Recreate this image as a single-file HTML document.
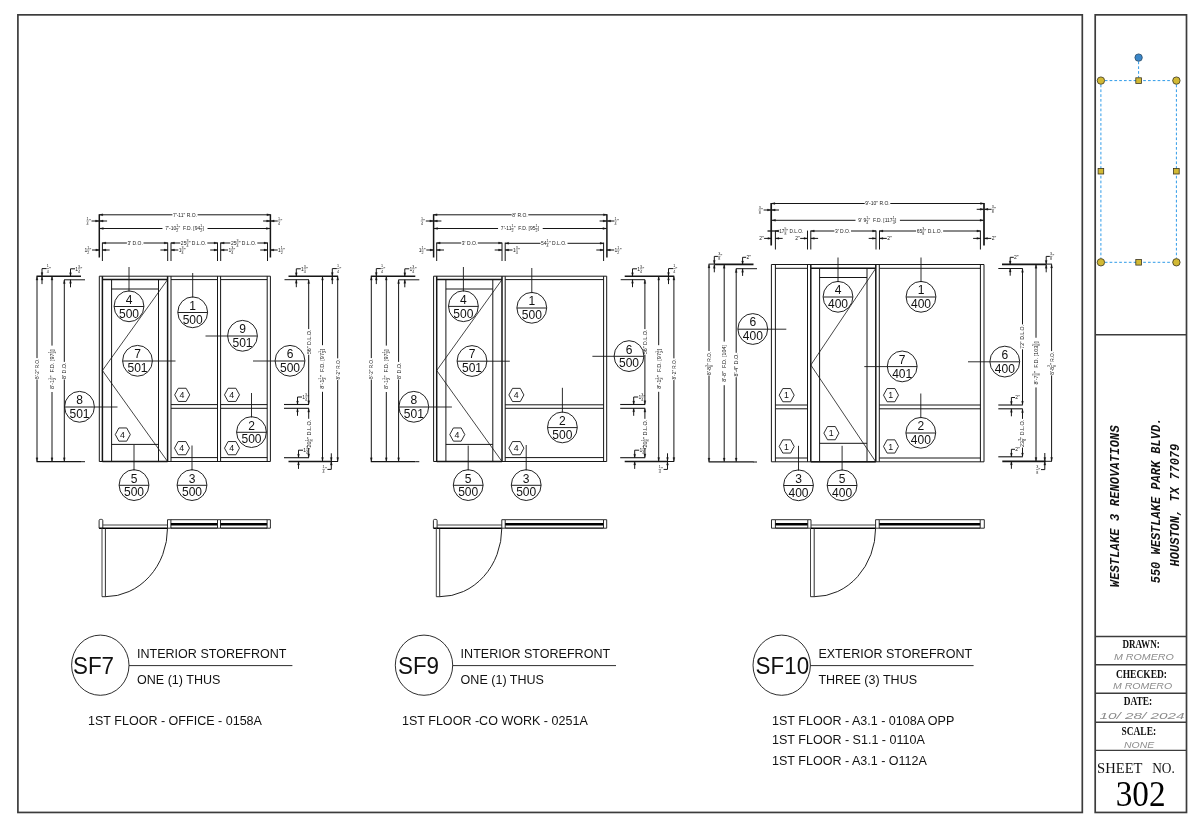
<!DOCTYPE html>
<html><head><meta charset="utf-8"><title>Shop Drawing 302</title>
<style>
html,body{margin:0;padding:0;background:#fff;}
body{width:1200px;height:822px;overflow:hidden;font-family:"Liberation Sans",sans-serif;}
svg{display:block;will-change:transform;}
svg text{font-family:"Liberation Sans",sans-serif;}
</style></head><body>
<svg width="1200" height="822" viewBox="0 0 1200 822">
<rect width="1200" height="822" fill="#fff"/>
<g fill="none">
<rect x="17.9" y="14.85" width="1064.4" height="797.6" stroke="#3c3c3c" stroke-width="1.7" fill="none"/>
<rect x="1095.2" y="14.85" width="91.3" height="797.6" stroke="#3c3c3c" stroke-width="1.7" fill="none"/>
<path d="M1095.2 334.7L1186.5 334.7" stroke="#3c3c3c" stroke-width="1.4"/>
<path d="M1095.2 636.5L1186.5 636.5" stroke="#3c3c3c" stroke-width="1.4"/>
<path d="M1095.2 664.8L1186.5 664.8" stroke="#3c3c3c" stroke-width="1.4"/>
<path d="M1095.2 693.3L1186.5 693.3" stroke="#3c3c3c" stroke-width="1.4"/>
<path d="M1095.2 722.2L1186.5 722.2" stroke="#3c3c3c" stroke-width="1.4"/>
<path d="M1095.2 750.4L1186.5 750.4" stroke="#3c3c3c" stroke-width="1.4"/>
<g stroke="#2f9be8" stroke-width="1" stroke-dasharray="2.7 2.1" fill="none">
<path d="M1138.6 61.5L1138.6 77.5"/><path d="M1104.8 80.6L1172.4 80.6"/><path d="M1104.8 262.3L1172.4 262.3"/>
<path d="M1100.9 84.6L1100.9 258.3"/><path d="M1176.4 84.6L1176.4 258.3"/></g>
<circle cx="1138.6" cy="57.6" r="3.7" fill="#3a86c8" stroke="#2a4a66" stroke-width="0.8"/>
<circle cx="1100.9" cy="80.6" r="3.7" fill="#d2b934" stroke="#3a3520" stroke-width="0.8"/>
<circle cx="1176.4" cy="80.6" r="3.7" fill="#d2b934" stroke="#3a3520" stroke-width="0.8"/>
<circle cx="1100.9" cy="262.3" r="3.7" fill="#d2b934" stroke="#3a3520" stroke-width="0.8"/>
<circle cx="1176.4" cy="262.3" r="3.7" fill="#d2b934" stroke="#3a3520" stroke-width="0.8"/>
<rect x="1135.8" y="77.8" width="5.6" height="5.6" fill="#d2b934" stroke="#3a3520" stroke-width="0.8"/>
<rect x="1098.1" y="168.4" width="5.6" height="5.6" fill="#d2b934" stroke="#3a3520" stroke-width="0.8"/>
<rect x="1173.6" y="168.4" width="5.6" height="5.6" fill="#d2b934" stroke="#3a3520" stroke-width="0.8"/>
<rect x="1135.8" y="259.5" width="5.6" height="5.6" fill="#d2b934" stroke="#3a3520" stroke-width="0.8"/>
<path d="M99.3 276.2L270.4 276.2L270.4 461.5L99.3 461.5Z" stroke="#161616" stroke-width="1"/>
<path d="M102.4 279.6L167.6 279.6" stroke="#161616" stroke-width="1.5"/>
<path d="M171 279.6L217.5 279.6" stroke="#161616" stroke-width="1"/>
<path d="M220.6 279.6L267.2 279.6" stroke="#161616" stroke-width="1"/>
<path d="M102.4 276.2L102.4 461.5" stroke="#161616" stroke-width="1.5"/>
<path d="M111.6 279.6L111.6 461.5" stroke="#161616" stroke-width="1"/>
<path d="M158.5 279.6L158.5 461.5" stroke="#161616" stroke-width="1"/>
<path d="M111.6 289L158.5 289" stroke="#161616" stroke-width="1"/>
<path d="M111.6 444.4L158.5 444.4" stroke="#161616" stroke-width="1"/>
<path d="M167.6 276.2L167.6 461.5" stroke="#161616" stroke-width="1.5"/>
<path d="M171 276.2L171 461.5" stroke="#161616" stroke-width="1"/>
<path d="M217.5 276.2L217.5 461.5" stroke="#161616" stroke-width="1"/>
<path d="M220.6 276.2L220.6 461.5" stroke="#161616" stroke-width="1"/>
<path d="M267.2 276.2L267.2 461.5" stroke="#161616" stroke-width="1"/>
<path d="M102.4 461.5L167.6 461.5" stroke="#161616" stroke-width="1.5"/>
<path d="M171 404.6L217.5 404.6" stroke="#161616" stroke-width="1"/>
<path d="M171 408.3L217.5 408.3" stroke="#161616" stroke-width="1"/>
<path d="M171 457.6L217.5 457.6" stroke="#161616" stroke-width="1"/>
<path d="M220.6 404.6L267.2 404.6" stroke="#161616" stroke-width="1"/>
<path d="M220.6 408.3L267.2 408.3" stroke="#161616" stroke-width="1"/>
<path d="M220.6 457.6L267.2 457.6" stroke="#161616" stroke-width="1"/>
<path d="M167.6 279.6L102.4 370.5L167.6 461.5" stroke="#161616" stroke-width="0.8"/>
<ellipse cx="129" cy="306.3" rx="14.9" ry="15.4" stroke="#161616" stroke-width="0.95" fill="none"/>
<path d="M114.1 306.5L143.9 306.5" stroke="#161616" stroke-width="0.95"/>
<text x="129" y="303.8" font-size="12.7" text-anchor="middle" fill="#111" transform="translate(129 303.8) scale(0.95 1) translate(-129 -303.8)">4</text>
<text x="129" y="317.7" font-size="12.7" text-anchor="middle" fill="#111" transform="translate(129 317.7) scale(0.95 1) translate(-129 -317.7)">500</text>
<path d="M129 267L129 291.7" stroke="#161616" stroke-width="0.9"/>
<ellipse cx="192.7" cy="312.3" rx="14.9" ry="15.4" stroke="#161616" stroke-width="0.95" fill="none"/>
<path d="M177.8 312.5L207.6 312.5" stroke="#161616" stroke-width="0.95"/>
<text x="192.7" y="309.8" font-size="12.7" text-anchor="middle" fill="#111" transform="translate(192.7 309.8) scale(0.95 1) translate(-192.7 -309.8)">1</text>
<text x="192.7" y="323.7" font-size="12.7" text-anchor="middle" fill="#111" transform="translate(192.7 323.7) scale(0.95 1) translate(-192.7 -323.7)">500</text>
<path d="M192.7 273L192.7 297.7" stroke="#161616" stroke-width="0.9"/>
<ellipse cx="242.5" cy="335.8" rx="14.9" ry="15.4" stroke="#161616" stroke-width="0.95" fill="none"/>
<path d="M227.6 336L257.4 336" stroke="#161616" stroke-width="0.95"/>
<text x="242.5" y="333.3" font-size="12.7" text-anchor="middle" fill="#111" transform="translate(242.5 333.3) scale(0.95 1) translate(-242.5 -333.3)">9</text>
<text x="242.5" y="347.2" font-size="12.7" text-anchor="middle" fill="#111" transform="translate(242.5 347.2) scale(0.95 1) translate(-242.5 -347.2)">501</text>
<path d="M205.5 336L227.7 336" stroke="#161616" stroke-width="0.9"/>
<ellipse cx="137.5" cy="360.8" rx="14.9" ry="15.4" stroke="#161616" stroke-width="0.95" fill="none"/>
<path d="M122.6 361L152.4 361" stroke="#161616" stroke-width="0.95"/>
<text x="137.5" y="358.3" font-size="12.7" text-anchor="middle" fill="#111" transform="translate(137.5 358.3) scale(0.95 1) translate(-137.5 -358.3)">7</text>
<text x="137.5" y="372.2" font-size="12.7" text-anchor="middle" fill="#111" transform="translate(137.5 372.2) scale(0.95 1) translate(-137.5 -372.2)">501</text>
<path d="M152.3 361L175.5 361" stroke="#161616" stroke-width="0.9"/>
<ellipse cx="290" cy="360.8" rx="14.9" ry="15.4" stroke="#161616" stroke-width="0.95" fill="none"/>
<path d="M275.1 361L304.9 361" stroke="#161616" stroke-width="0.95"/>
<text x="290" y="358.3" font-size="12.7" text-anchor="middle" fill="#111" transform="translate(290 358.3) scale(0.95 1) translate(-290 -358.3)">6</text>
<text x="290" y="372.2" font-size="12.7" text-anchor="middle" fill="#111" transform="translate(290 372.2) scale(0.95 1) translate(-290 -372.2)">500</text>
<path d="M253 361L275.2 361" stroke="#161616" stroke-width="0.9"/>
<ellipse cx="79.5" cy="406.8" rx="14.9" ry="15.4" stroke="#161616" stroke-width="0.95" fill="none"/>
<path d="M64.6 407L94.4 407" stroke="#161616" stroke-width="0.95"/>
<text x="79.5" y="404.3" font-size="12.7" text-anchor="middle" fill="#111" transform="translate(79.5 404.3) scale(0.95 1) translate(-79.5 -404.3)">8</text>
<text x="79.5" y="418.2" font-size="12.7" text-anchor="middle" fill="#111" transform="translate(79.5 418.2) scale(0.95 1) translate(-79.5 -418.2)">501</text>
<path d="M94.3 407L117.5 407" stroke="#161616" stroke-width="0.9"/>
<ellipse cx="251.5" cy="432.1" rx="14.9" ry="15.4" stroke="#161616" stroke-width="0.95" fill="none"/>
<path d="M236.6 432.3L266.4 432.3" stroke="#161616" stroke-width="0.95"/>
<text x="251.5" y="429.6" font-size="12.7" text-anchor="middle" fill="#111" transform="translate(251.5 429.6) scale(0.95 1) translate(-251.5 -429.6)">2</text>
<text x="251.5" y="443.5" font-size="12.7" text-anchor="middle" fill="#111" transform="translate(251.5 443.5) scale(0.95 1) translate(-251.5 -443.5)">500</text>
<path d="M251.5 393L251.5 417.5" stroke="#161616" stroke-width="0.9"/>
<ellipse cx="134" cy="485.1" rx="14.9" ry="15.4" stroke="#161616" stroke-width="0.95" fill="none"/>
<path d="M119.1 485.3L148.9 485.3" stroke="#161616" stroke-width="0.95"/>
<text x="134" y="482.6" font-size="12.7" text-anchor="middle" fill="#111" transform="translate(134 482.6) scale(0.95 1) translate(-134 -482.6)">5</text>
<text x="134" y="496.5" font-size="12.7" text-anchor="middle" fill="#111" transform="translate(134 496.5) scale(0.95 1) translate(-134 -496.5)">500</text>
<path d="M134 445L134 470.5" stroke="#161616" stroke-width="0.9"/>
<ellipse cx="192" cy="485.1" rx="14.9" ry="15.4" stroke="#161616" stroke-width="0.95" fill="none"/>
<path d="M177.1 485.3L206.9 485.3" stroke="#161616" stroke-width="0.95"/>
<text x="192" y="482.6" font-size="12.7" text-anchor="middle" fill="#111" transform="translate(192 482.6) scale(0.95 1) translate(-192 -482.6)">3</text>
<text x="192" y="496.5" font-size="12.7" text-anchor="middle" fill="#111" transform="translate(192 496.5) scale(0.95 1) translate(-192 -496.5)">500</text>
<path d="M192 445.5L192 470.5" stroke="#161616" stroke-width="0.9"/>
<path d="M115.3 434.55L118.9 427.95L126.7 427.95L130.3 434.55L126.7 441.15L118.9 441.15Z" stroke="#161616" stroke-width="0.9"/>
<text x="122.5" y="437.65" font-size="8.8" text-anchor="middle" fill="#111">4</text>
<path d="M174.7 394.85L178.3 388.25L186.1 388.25L189.7 394.85L186.1 401.45L178.3 401.45Z" stroke="#161616" stroke-width="0.9"/>
<text x="181.9" y="397.95" font-size="8.8" text-anchor="middle" fill="#111">4</text>
<path d="M224.5 394.85L228.1 388.25L235.9 388.25L239.5 394.85L235.9 401.45L228.1 401.45Z" stroke="#161616" stroke-width="0.9"/>
<text x="231.7" y="397.95" font-size="8.8" text-anchor="middle" fill="#111">4</text>
<path d="M174.5 448.15L178.1 441.55L185.9 441.55L189.5 448.15L185.9 454.75L178.1 454.75Z" stroke="#161616" stroke-width="0.9"/>
<text x="181.7" y="451.25" font-size="8.8" text-anchor="middle" fill="#111">4</text>
<path d="M224.5 448.15L228.1 441.55L235.9 441.55L239.5 448.15L235.9 454.75L228.1 454.75Z" stroke="#161616" stroke-width="0.9"/>
<text x="231.7" y="451.25" font-size="8.8" text-anchor="middle" fill="#111">4</text>
<path d="M99.3 214.3L99.3 257.5" stroke="#161616" stroke-width="1.5"/>
<path d="M270.4 214.3L270.4 257.5" stroke="#161616" stroke-width="1.5"/>
<path d="M99.3 214.8L172.38 214.8" stroke="#161616" stroke-width="1"/>
<path d="M197.62 214.8L270.4 214.8" stroke="#161616" stroke-width="1"/>
<path d="M99.3 214.8L102.8 213.85L102.8 215.75Z" fill="#161616" stroke="#161616" stroke-width="0.3"/>
<path d="M270.4 214.8L266.9 213.85L266.9 215.75Z" fill="#161616" stroke="#161616" stroke-width="0.3"/>
<g transform="translate(172.98 0) scale(0.91 1) translate(-172.98 0)">
<text x="172.98" y="216.78" font-size="5.5" text-anchor="start" fill="#1a1a1a">7'-11" R.O.</text>
</g>
<path d="M91.5 221L99 221" stroke="#161616" stroke-width="1"/>
<path d="M99 221L95.5 220.05L95.5 221.95Z" fill="#161616" stroke="#161616" stroke-width="0.3"/>
<path d="M99.6 221L107.1 221" stroke="#161616" stroke-width="1"/>
<path d="M99.6 221L103.1 220.05L103.1 221.95Z" fill="#161616" stroke="#161616" stroke-width="0.3"/>
<g transform="translate(86.67 0) scale(0.93 1) translate(-86.67 0)">
<text x="87.73" y="219.9" font-size="4" text-anchor="middle" fill="#1a1a1a">1</text>
<text x="87.73" y="224.96" font-size="4" text-anchor="middle" fill="#1a1a1a">4</text>
<path d="M86.42 221L89.04 221" stroke="#1a1a1a" stroke-width="0.5"/>
<text x="89.14" y="222.98" font-size="5.5" text-anchor="start" fill="#1a1a1a">"</text>
</g>
<path d="M263.1 221L270.1 221" stroke="#161616" stroke-width="1"/>
<path d="M270.1 221L266.6 220.05L266.6 221.95Z" fill="#161616" stroke="#161616" stroke-width="0.3"/>
<path d="M270.7 221L277.7 221" stroke="#161616" stroke-width="1"/>
<path d="M270.7 221L274.2 220.05L274.2 221.95Z" fill="#161616" stroke="#161616" stroke-width="0.3"/>
<g transform="translate(278.1 0) scale(0.93 1) translate(-278.1 0)">
<text x="279.16" y="219.9" font-size="4" text-anchor="middle" fill="#1a1a1a">1</text>
<text x="279.16" y="224.96" font-size="4" text-anchor="middle" fill="#1a1a1a">4</text>
<path d="M277.85 221L280.47 221" stroke="#1a1a1a" stroke-width="0.5"/>
<text x="280.57" y="222.98" font-size="5.5" text-anchor="start" fill="#1a1a1a">"</text>
</g>
<path d="M99.8 228.5L162.48 228.5" stroke="#161616" stroke-width="1"/>
<path d="M207.52 228.5L269.9 228.5" stroke="#161616" stroke-width="1"/>
<path d="M99.8 228.5L103.3 227.55L103.3 229.45Z" fill="#161616" stroke="#161616" stroke-width="0.3"/>
<path d="M269.9 228.5L266.4 227.55L266.4 229.45Z" fill="#161616" stroke="#161616" stroke-width="0.3"/>
<g transform="translate(165.28 0) scale(0.91 1) translate(-165.28 0)">
<text x="165.28" y="230.48" font-size="5.5" text-anchor="start" fill="#1a1a1a">7'-10</text>
<text x="178.4" y="227.4" font-size="4" text-anchor="middle" fill="#1a1a1a">1</text>
<text x="178.4" y="232.46" font-size="4" text-anchor="middle" fill="#1a1a1a">2</text>
<path d="M177.08 228.5L179.71 228.5" stroke="#1a1a1a" stroke-width="0.5"/>
<text x="179.81" y="230.48" font-size="5.5" text-anchor="start" fill="#1a1a1a">"&#160;&#160;F.D. [94</text>
<text x="204.83" y="227.4" font-size="4" text-anchor="middle" fill="#1a1a1a">1</text>
<text x="204.83" y="232.46" font-size="4" text-anchor="middle" fill="#1a1a1a">2</text>
<path d="M203.52 228.5L206.14 228.5" stroke="#1a1a1a" stroke-width="0.5"/>
<text x="206.24" y="230.48" font-size="5.5" text-anchor="start" fill="#1a1a1a">]</text>
</g>
<path d="M102.4 242.6L102.4 261" stroke="#161616" stroke-width="1"/>
<path d="M167.7 242.6L167.7 261" stroke="#161616" stroke-width="1"/>
<path d="M171 242.6L171 261" stroke="#161616" stroke-width="1"/>
<path d="M217.5 242.6L217.5 261" stroke="#161616" stroke-width="1"/>
<path d="M220.7 242.6L220.7 261" stroke="#161616" stroke-width="1"/>
<path d="M267.5 242.6L267.5 261" stroke="#161616" stroke-width="1"/>
<path d="M102.4 243L126.9 243" stroke="#161616" stroke-width="1"/>
<path d="M143.5 243L167.7 243" stroke="#161616" stroke-width="1"/>
<path d="M102.4 243L105.9 242.05L105.9 243.95Z" fill="#161616" stroke="#161616" stroke-width="0.3"/>
<path d="M167.7 243L164.2 242.05L164.2 243.95Z" fill="#161616" stroke="#161616" stroke-width="0.3"/>
<g transform="translate(127.5 0) scale(0.91 1) translate(-127.5 0)">
<text x="127.5" y="244.98" font-size="5.5" text-anchor="start" fill="#1a1a1a">3' D.O.</text>
</g>
<path d="M171 243L180.28 243" stroke="#161616" stroke-width="1"/>
<path d="M207.32 243L217.5 243" stroke="#161616" stroke-width="1"/>
<path d="M171 243L174.5 242.05L174.5 243.95Z" fill="#161616" stroke="#161616" stroke-width="0.3"/>
<path d="M217.5 243L214 242.05L214 243.95Z" fill="#161616" stroke="#161616" stroke-width="0.3"/>
<g transform="translate(180.88 0) scale(0.91 1) translate(-180.88 0)">
<text x="180.88" y="244.98" font-size="5.5" text-anchor="start" fill="#1a1a1a">25</text>
<text x="188.06" y="241.9" font-size="4" text-anchor="middle" fill="#1a1a1a">3</text>
<text x="188.06" y="246.96" font-size="4" text-anchor="middle" fill="#1a1a1a">4</text>
<path d="M186.75 243L189.38 243" stroke="#1a1a1a" stroke-width="0.5"/>
<text x="189.48" y="244.98" font-size="5.5" text-anchor="start" fill="#1a1a1a">" D.L.O.</text>
</g>
<path d="M220.7 243L230.28 243" stroke="#161616" stroke-width="1"/>
<path d="M257.32 243L267.5 243" stroke="#161616" stroke-width="1"/>
<path d="M220.7 243L224.2 242.05L224.2 243.95Z" fill="#161616" stroke="#161616" stroke-width="0.3"/>
<path d="M267.5 243L264 242.05L264 243.95Z" fill="#161616" stroke="#161616" stroke-width="0.3"/>
<g transform="translate(230.88 0) scale(0.91 1) translate(-230.88 0)">
<text x="230.88" y="244.98" font-size="5.5" text-anchor="start" fill="#1a1a1a">25</text>
<text x="238.06" y="241.9" font-size="4" text-anchor="middle" fill="#1a1a1a">3</text>
<text x="238.06" y="246.96" font-size="4" text-anchor="middle" fill="#1a1a1a">4</text>
<path d="M236.75 243L239.38 243" stroke="#1a1a1a" stroke-width="0.5"/>
<text x="239.48" y="244.98" font-size="5.5" text-anchor="start" fill="#1a1a1a">" D.L.O.</text>
</g>
<path d="M92 250L99.3 250" stroke="#161616" stroke-width="1"/>
<path d="M99.3 250L95.8 249.05L95.8 250.95Z" fill="#161616" stroke="#161616" stroke-width="0.3"/>
<path d="M102.4 250L109.7 250" stroke="#161616" stroke-width="1"/>
<path d="M102.4 250L105.9 249.05L105.9 250.95Z" fill="#161616" stroke="#161616" stroke-width="0.3"/>
<g transform="translate(84.39 0) scale(0.92 1) translate(-84.39 0)">
<text x="84.39" y="251.98" font-size="5.5" text-anchor="start" fill="#1a1a1a">1</text>
<text x="88.51" y="248.9" font-size="4" text-anchor="middle" fill="#1a1a1a">1</text>
<text x="88.51" y="253.96" font-size="4" text-anchor="middle" fill="#1a1a1a">2</text>
<path d="M87.2 250L89.82 250" stroke="#1a1a1a" stroke-width="0.5"/>
<text x="89.92" y="251.98" font-size="5.5" text-anchor="start" fill="#1a1a1a">"</text>
</g>
<path d="M160.4 250L167.7 250" stroke="#161616" stroke-width="1"/>
<path d="M167.7 250L164.2 249.05L164.2 250.95Z" fill="#161616" stroke="#161616" stroke-width="0.3"/>
<path d="M171 250L178.3 250" stroke="#161616" stroke-width="1"/>
<path d="M171 250L174.5 249.05L174.5 250.95Z" fill="#161616" stroke="#161616" stroke-width="0.3"/>
<g transform="translate(178.7 0) scale(0.92 1) translate(-178.7 0)">
<text x="178.7" y="251.98" font-size="5.5" text-anchor="start" fill="#1a1a1a">1</text>
<text x="182.82" y="248.9" font-size="4" text-anchor="middle" fill="#1a1a1a">3</text>
<text x="182.82" y="253.96" font-size="4" text-anchor="middle" fill="#1a1a1a">4</text>
<path d="M181.51 250L184.13 250" stroke="#1a1a1a" stroke-width="0.5"/>
<text x="184.23" y="251.98" font-size="5.5" text-anchor="start" fill="#1a1a1a">"</text>
</g>
<path d="M210.2 250L217.5 250" stroke="#161616" stroke-width="1"/>
<path d="M217.5 250L214 249.05L214 250.95Z" fill="#161616" stroke="#161616" stroke-width="0.3"/>
<path d="M220.7 250L228 250" stroke="#161616" stroke-width="1"/>
<path d="M220.7 250L224.2 249.05L224.2 250.95Z" fill="#161616" stroke="#161616" stroke-width="0.3"/>
<g transform="translate(228.4 0) scale(0.92 1) translate(-228.4 0)">
<text x="228.4" y="251.98" font-size="5.5" text-anchor="start" fill="#1a1a1a">1</text>
<text x="232.52" y="248.9" font-size="4" text-anchor="middle" fill="#1a1a1a">3</text>
<text x="232.52" y="253.96" font-size="4" text-anchor="middle" fill="#1a1a1a">4</text>
<path d="M231.21 250L233.83 250" stroke="#1a1a1a" stroke-width="0.5"/>
<text x="233.93" y="251.98" font-size="5.5" text-anchor="start" fill="#1a1a1a">"</text>
</g>
<path d="M260.2 250L267.5 250" stroke="#161616" stroke-width="1"/>
<path d="M267.5 250L264 249.05L264 250.95Z" fill="#161616" stroke="#161616" stroke-width="0.3"/>
<path d="M270.4 250L277.7 250" stroke="#161616" stroke-width="1"/>
<path d="M270.4 250L273.9 249.05L273.9 250.95Z" fill="#161616" stroke="#161616" stroke-width="0.3"/>
<g transform="translate(278.1 0) scale(0.92 1) translate(-278.1 0)">
<text x="278.1" y="251.98" font-size="5.5" text-anchor="start" fill="#1a1a1a">1</text>
<text x="282.22" y="248.9" font-size="4" text-anchor="middle" fill="#1a1a1a">1</text>
<text x="282.22" y="253.96" font-size="4" text-anchor="middle" fill="#1a1a1a">2</text>
<path d="M280.91 250L283.53 250" stroke="#1a1a1a" stroke-width="0.5"/>
<text x="283.63" y="251.98" font-size="5.5" text-anchor="start" fill="#1a1a1a">"</text>
</g>
<path d="M36.5 276.3L81 276.3" stroke="#161616" stroke-width="1.5"/>
<path d="M64 279.8L85 279.8" stroke="#161616" stroke-width="1"/>
<path d="M36.5 461.6L81 461.6" stroke="#161616" stroke-width="1.2"/>
<path d="M81 461.7L85 461.7" stroke="#161616" stroke-width="1"/>
<path d="M37 276.6L37 358.1" stroke="#161616" stroke-width="1"/>
<path d="M37 379.5L37 461.3" stroke="#161616" stroke-width="1"/>
<path d="M37 276.6L36.05 280.1L37.95 280.1Z" fill="#161616" stroke="#161616" stroke-width="0.3"/>
<path d="M37 461.3L36.05 457.8L37.95 457.8Z" fill="#161616" stroke="#161616" stroke-width="0.3"/>
<g transform="rotate(-90 37 368.8) translate(26.9 0) scale(0.85 1) translate(-26.9 0)">
<text x="26.9" y="370.78" font-size="5.5" text-anchor="start" fill="#1a1a1a">8'-2" R.O.</text>
</g>
<path d="M52 276.6L52 345.6" stroke="#161616" stroke-width="1"/>
<path d="M52 392L52 461.3" stroke="#161616" stroke-width="1"/>
<path d="M52 276.6L51.05 280.1L52.95 280.1Z" fill="#161616" stroke="#161616" stroke-width="0.3"/>
<path d="M52 461.3L51.05 457.8L52.95 457.8Z" fill="#161616" stroke="#161616" stroke-width="0.3"/>
<g transform="rotate(-90 52 368.8) translate(31.9 0) scale(1 1) translate(-31.9 0)">
<text x="31.9" y="370.78" font-size="5.5" text-anchor="start" fill="#1a1a1a">8'-1</text>
<text x="41.96" y="367.7" font-size="4" text-anchor="middle" fill="#1a1a1a">1</text>
<text x="41.96" y="372.76" font-size="4" text-anchor="middle" fill="#1a1a1a">2</text>
<path d="M40.65 368.8L43.27 368.8" stroke="#1a1a1a" stroke-width="0.5"/>
<text x="43.37" y="370.78" font-size="5.5" text-anchor="start" fill="#1a1a1a">"&#160;&#160;F.D. [97</text>
<text x="68.4" y="367.7" font-size="4" text-anchor="middle" fill="#1a1a1a">1</text>
<text x="68.4" y="372.76" font-size="4" text-anchor="middle" fill="#1a1a1a">2</text>
<path d="M67.08 368.8L69.71 368.8" stroke="#1a1a1a" stroke-width="0.5"/>
<text x="69.81" y="370.78" font-size="5.5" text-anchor="start" fill="#1a1a1a">]</text>
</g>
<path d="M64.3 280L64.3 361.9" stroke="#161616" stroke-width="1"/>
<path d="M64.3 379.5L64.3 461.3" stroke="#161616" stroke-width="1"/>
<path d="M64.3 280L63.35 283.5L65.25 283.5Z" fill="#161616" stroke="#161616" stroke-width="0.3"/>
<path d="M64.3 461.3L63.35 457.8L65.25 457.8Z" fill="#161616" stroke="#161616" stroke-width="0.3"/>
<g transform="rotate(-90 64.3 370.7) translate(56.1 0) scale(0.97 1) translate(-56.1 0)">
<text x="56.1" y="372.68" font-size="5.5" text-anchor="start" fill="#1a1a1a">8' D.O.</text>
</g>
<path d="M42 268.6L42 276.1" stroke="#161616" stroke-width="1"/>
<path d="M42 276.1L41.05 272.6L42.95 272.6Z" fill="#161616" stroke="#161616" stroke-width="0.3"/>
<path d="M42 276.6L42 284.1" stroke="#161616" stroke-width="1"/>
<path d="M42 276.6L41.05 280.1L42.95 280.1Z" fill="#161616" stroke="#161616" stroke-width="0.3"/>
<path d="M42 268.6L46.5 268.6" stroke="#161616" stroke-width="1"/>
<g transform="translate(46.8 0) scale(0.93 1) translate(-46.8 0)">
<text x="47.86" y="267.5" font-size="4" text-anchor="middle" fill="#1a1a1a">1</text>
<text x="47.86" y="272.56" font-size="4" text-anchor="middle" fill="#1a1a1a">4</text>
<path d="M46.55 268.6L49.17 268.6" stroke="#1a1a1a" stroke-width="0.5"/>
<text x="49.27" y="270.58" font-size="5.5" text-anchor="start" fill="#1a1a1a">"</text>
</g>
<path d="M70.5 268.8L70.5 276.3" stroke="#161616" stroke-width="1"/>
<path d="M70.5 276.3L69.55 272.8L71.45 272.8Z" fill="#161616" stroke="#161616" stroke-width="0.3"/>
<path d="M70.5 279.8L70.5 287.3" stroke="#161616" stroke-width="1"/>
<path d="M70.5 279.8L69.55 283.3L71.45 283.3Z" fill="#161616" stroke="#161616" stroke-width="0.3"/>
<path d="M70.5 268.8L75 268.8" stroke="#161616" stroke-width="1"/>
<g transform="translate(75.3 0) scale(0.92 1) translate(-75.3 0)">
<text x="75.3" y="270.78" font-size="5.5" text-anchor="start" fill="#1a1a1a">1</text>
<text x="79.42" y="267.7" font-size="4" text-anchor="middle" fill="#1a1a1a">3</text>
<text x="79.42" y="272.76" font-size="4" text-anchor="middle" fill="#1a1a1a">4</text>
<path d="M78.11 268.8L80.73 268.8" stroke="#1a1a1a" stroke-width="0.5"/>
<text x="80.83" y="270.78" font-size="5.5" text-anchor="start" fill="#1a1a1a">"</text>
</g>
<path d="M288.5 276.3L338.1 276.3" stroke="#161616" stroke-width="1.5"/>
<path d="M284.5 279.7L309 279.7" stroke="#161616" stroke-width="1"/>
<path d="M284 404.5L309 404.5" stroke="#161616" stroke-width="1.1"/>
<path d="M284 408.3L309 408.3" stroke="#161616" stroke-width="1.1"/>
<path d="M284 457.7L309 457.7" stroke="#161616" stroke-width="1.1"/>
<path d="M288.5 461.4L331.3 461.4" stroke="#161616" stroke-width="1.5"/>
<path d="M331 461.5L338.1 461.5" stroke="#161616" stroke-width="1"/>
<path d="M308.7 280L308.7 329.1" stroke="#161616" stroke-width="1"/>
<path d="M308.7 354.7L308.7 404.2" stroke="#161616" stroke-width="1"/>
<path d="M308.7 280L307.75 283.5L309.65 283.5Z" fill="#161616" stroke="#161616" stroke-width="0.3"/>
<path d="M308.7 404.2L307.75 400.7L309.65 400.7Z" fill="#161616" stroke="#161616" stroke-width="0.3"/>
<g transform="rotate(-90 308.7 341.9) translate(296.5 0) scale(0.96 1) translate(-296.5 0)">
<text x="296.5" y="343.88" font-size="5.5" text-anchor="start" fill="#1a1a1a">56" D.L.O.</text>
</g>
<path d="M308.7 408.6L308.7 418.8" stroke="#161616" stroke-width="1"/>
<path d="M308.7 448L308.7 457.4" stroke="#161616" stroke-width="1"/>
<path d="M308.7 408.6L307.75 412.1L309.65 412.1Z" fill="#161616" stroke="#161616" stroke-width="0.3"/>
<path d="M308.7 457.4L307.75 453.9L309.65 453.9Z" fill="#161616" stroke="#161616" stroke-width="0.3"/>
<g transform="rotate(-90 308.7 433.4) translate(294.7 0) scale(0.99 1) translate(-294.7 0)">
<text x="294.7" y="435.38" font-size="5.5" text-anchor="start" fill="#1a1a1a">20</text>
<text x="301.88" y="432.3" font-size="4" text-anchor="middle" fill="#1a1a1a">1</text>
<text x="301.88" y="437.36" font-size="4" text-anchor="middle" fill="#1a1a1a">8</text>
<path d="M300.57 433.4L303.19 433.4" stroke="#1a1a1a" stroke-width="0.5"/>
<text x="303.29" y="435.38" font-size="5.5" text-anchor="start" fill="#1a1a1a">" D.L.O.</text>
</g>
<path d="M322.5 276.6L322.5 345.2" stroke="#161616" stroke-width="1"/>
<path d="M322.5 391.8L322.5 461.1" stroke="#161616" stroke-width="1"/>
<path d="M322.5 276.6L321.55 280.1L323.45 280.1Z" fill="#161616" stroke="#161616" stroke-width="0.3"/>
<path d="M322.5 461.1L321.55 457.6L323.45 457.6Z" fill="#161616" stroke="#161616" stroke-width="0.3"/>
<g transform="rotate(-90 322.5 368.5) translate(302.3 0) scale(1.01 1) translate(-302.3 0)">
<text x="302.3" y="370.48" font-size="5.5" text-anchor="start" fill="#1a1a1a">8'-1</text>
<text x="312.36" y="367.4" font-size="4" text-anchor="middle" fill="#1a1a1a">1</text>
<text x="312.36" y="372.46" font-size="4" text-anchor="middle" fill="#1a1a1a">2</text>
<path d="M311.05 368.5L313.67 368.5" stroke="#1a1a1a" stroke-width="0.5"/>
<text x="313.77" y="370.48" font-size="5.5" text-anchor="start" fill="#1a1a1a">"&#160;&#160;F.D. [97</text>
<text x="338.8" y="367.4" font-size="4" text-anchor="middle" fill="#1a1a1a">1</text>
<text x="338.8" y="372.46" font-size="4" text-anchor="middle" fill="#1a1a1a">2</text>
<path d="M337.48 368.5L340.11 368.5" stroke="#1a1a1a" stroke-width="0.5"/>
<text x="340.21" y="370.48" font-size="5.5" text-anchor="start" fill="#1a1a1a">]</text>
</g>
<path d="M337.7 276.6L337.7 358.35" stroke="#161616" stroke-width="1"/>
<path d="M337.7 380.05L337.7 461.1" stroke="#161616" stroke-width="1"/>
<path d="M337.7 276.6L336.75 280.1L338.65 280.1Z" fill="#161616" stroke="#161616" stroke-width="0.3"/>
<path d="M337.7 461.1L336.75 457.6L338.65 457.6Z" fill="#161616" stroke="#161616" stroke-width="0.3"/>
<g transform="rotate(-90 337.7 369.2) translate(327.45 0) scale(0.86 1) translate(-327.45 0)">
<text x="327.45" y="371.18" font-size="5.5" text-anchor="start" fill="#1a1a1a">8'-2" R.O.</text>
</g>
<path d="M296.3 268.8L296.3 276.3" stroke="#161616" stroke-width="1"/>
<path d="M296.3 276.3L295.35 272.8L297.25 272.8Z" fill="#161616" stroke="#161616" stroke-width="0.3"/>
<path d="M296.3 279.7L296.3 287.2" stroke="#161616" stroke-width="1"/>
<path d="M296.3 279.7L295.35 283.2L297.25 283.2Z" fill="#161616" stroke="#161616" stroke-width="0.3"/>
<path d="M296.3 268.8L300.8 268.8" stroke="#161616" stroke-width="1"/>
<g transform="translate(301.1 0) scale(0.92 1) translate(-301.1 0)">
<text x="301.1" y="270.78" font-size="5.5" text-anchor="start" fill="#1a1a1a">1</text>
<text x="305.22" y="267.7" font-size="4" text-anchor="middle" fill="#1a1a1a">3</text>
<text x="305.22" y="272.76" font-size="4" text-anchor="middle" fill="#1a1a1a">4</text>
<path d="M303.91 268.8L306.53 268.8" stroke="#1a1a1a" stroke-width="0.5"/>
<text x="306.63" y="270.78" font-size="5.5" text-anchor="start" fill="#1a1a1a">"</text>
</g>
<path d="M332.3 268.6L332.3 276.1" stroke="#161616" stroke-width="1"/>
<path d="M332.3 276.1L331.35 272.6L333.25 272.6Z" fill="#161616" stroke="#161616" stroke-width="0.3"/>
<path d="M332.3 276.6L332.3 284.1" stroke="#161616" stroke-width="1"/>
<path d="M332.3 276.6L331.35 280.1L333.25 280.1Z" fill="#161616" stroke="#161616" stroke-width="0.3"/>
<path d="M332.3 268.6L336.8 268.6" stroke="#161616" stroke-width="1"/>
<g transform="translate(337.1 0) scale(0.93 1) translate(-337.1 0)">
<text x="338.16" y="267.5" font-size="4" text-anchor="middle" fill="#1a1a1a">1</text>
<text x="338.16" y="272.56" font-size="4" text-anchor="middle" fill="#1a1a1a">4</text>
<path d="M336.85 268.6L339.47 268.6" stroke="#1a1a1a" stroke-width="0.5"/>
<text x="339.57" y="270.58" font-size="5.5" text-anchor="start" fill="#1a1a1a">"</text>
</g>
<path d="M297.5 397L297.5 404.5" stroke="#161616" stroke-width="1"/>
<path d="M297.5 404.5L296.55 401L298.45 401Z" fill="#161616" stroke="#161616" stroke-width="0.3"/>
<path d="M297.5 408.3L297.5 415.8" stroke="#161616" stroke-width="1"/>
<path d="M297.5 408.3L296.55 411.8L298.45 411.8Z" fill="#161616" stroke="#161616" stroke-width="0.3"/>
<path d="M297.5 397L302 397" stroke="#161616" stroke-width="1"/>
<g transform="translate(302.3 0) scale(0.92 1) translate(-302.3 0)">
<text x="302.3" y="398.98" font-size="5.5" text-anchor="start" fill="#1a1a1a">1</text>
<text x="306.42" y="395.9" font-size="4" text-anchor="middle" fill="#1a1a1a">3</text>
<text x="306.42" y="400.96" font-size="4" text-anchor="middle" fill="#1a1a1a">4</text>
<path d="M305.11 397L307.73 397" stroke="#1a1a1a" stroke-width="0.5"/>
<text x="307.83" y="398.98" font-size="5.5" text-anchor="start" fill="#1a1a1a">"</text>
</g>
<path d="M298.5 450.2L298.5 457.7" stroke="#161616" stroke-width="1"/>
<path d="M298.5 457.7L297.55 454.2L299.45 454.2Z" fill="#161616" stroke="#161616" stroke-width="0.3"/>
<path d="M298.5 461.4L298.5 468.9" stroke="#161616" stroke-width="1"/>
<path d="M298.5 461.4L297.55 464.9L299.45 464.9Z" fill="#161616" stroke="#161616" stroke-width="0.3"/>
<path d="M298.5 450.2L303 450.2" stroke="#161616" stroke-width="1"/>
<g transform="translate(303.3 0) scale(0.92 1) translate(-303.3 0)">
<text x="303.3" y="452.18" font-size="5.5" text-anchor="start" fill="#1a1a1a">1</text>
<text x="307.42" y="449.1" font-size="4" text-anchor="middle" fill="#1a1a1a">3</text>
<text x="307.42" y="454.16" font-size="4" text-anchor="middle" fill="#1a1a1a">4</text>
<path d="M306.11 450.2L308.73 450.2" stroke="#1a1a1a" stroke-width="0.5"/>
<text x="308.83" y="452.18" font-size="5.5" text-anchor="start" fill="#1a1a1a">"</text>
</g>
<path d="M331.3 453.3L331.3 461.1" stroke="#161616" stroke-width="1"/>
<path d="M331.3 461.1L330.35 457.6L332.25 457.6Z" fill="#161616" stroke="#161616" stroke-width="0.3"/>
<path d="M331.3 461.6L331.3 469.4" stroke="#161616" stroke-width="1"/>
<path d="M331.3 461.6L330.35 465.1L332.25 465.1Z" fill="#161616" stroke="#161616" stroke-width="0.3"/>
<path d="M331.3 469.4L327.4 469.4" stroke="#161616" stroke-width="1"/>
<g transform="translate(322.67 0) scale(0.93 1) translate(-322.67 0)">
<text x="323.73" y="468.3" font-size="4" text-anchor="middle" fill="#1a1a1a">1</text>
<text x="323.73" y="473.36" font-size="4" text-anchor="middle" fill="#1a1a1a">4</text>
<path d="M322.42 469.4L325.04 469.4" stroke="#1a1a1a" stroke-width="0.5"/>
<text x="325.14" y="471.38" font-size="5.5" text-anchor="start" fill="#1a1a1a">"</text>
</g>
<path d="M433.6 276.2L606.7 276.2L606.7 461.5L433.6 461.5Z" stroke="#161616" stroke-width="1"/>
<path d="M436.7 279.6L502 279.6" stroke="#161616" stroke-width="1.5"/>
<path d="M505.2 279.6L603.6 279.6" stroke="#161616" stroke-width="1"/>
<path d="M436.7 276.2L436.7 461.5" stroke="#161616" stroke-width="1.5"/>
<path d="M445.9 279.6L445.9 461.5" stroke="#161616" stroke-width="1"/>
<path d="M492.8 279.6L492.8 461.5" stroke="#161616" stroke-width="1"/>
<path d="M445.9 289L492.8 289" stroke="#161616" stroke-width="1"/>
<path d="M445.9 444.4L492.8 444.4" stroke="#161616" stroke-width="1"/>
<path d="M502 276.2L502 461.5" stroke="#161616" stroke-width="1.5"/>
<path d="M505.2 276.2L505.2 461.5" stroke="#161616" stroke-width="1"/>
<path d="M603.6 276.2L603.6 461.5" stroke="#161616" stroke-width="1"/>
<path d="M436.7 461.5L502 461.5" stroke="#161616" stroke-width="1.5"/>
<path d="M505.2 404.8L603.6 404.8" stroke="#161616" stroke-width="1"/>
<path d="M505.2 408.3L603.6 408.3" stroke="#161616" stroke-width="1"/>
<path d="M505.2 457.6L603.6 457.6" stroke="#161616" stroke-width="1"/>
<path d="M502 279.6L436.7 370.5L502 461.5" stroke="#161616" stroke-width="0.8"/>
<ellipse cx="463.4" cy="306.2" rx="14.9" ry="15.4" stroke="#161616" stroke-width="0.95" fill="none"/>
<path d="M448.5 306.4L478.3 306.4" stroke="#161616" stroke-width="0.95"/>
<text x="463.4" y="303.7" font-size="12.7" text-anchor="middle" fill="#111" transform="translate(463.4 303.7) scale(0.95 1) translate(-463.4 -303.7)">4</text>
<text x="463.4" y="317.6" font-size="12.7" text-anchor="middle" fill="#111" transform="translate(463.4 317.6) scale(0.95 1) translate(-463.4 -317.6)">500</text>
<path d="M463.4 267L463.4 291.6" stroke="#161616" stroke-width="0.9"/>
<ellipse cx="531.8" cy="307.8" rx="14.9" ry="15.4" stroke="#161616" stroke-width="0.95" fill="none"/>
<path d="M516.9 308L546.7 308" stroke="#161616" stroke-width="0.95"/>
<text x="531.8" y="305.3" font-size="12.7" text-anchor="middle" fill="#111" transform="translate(531.8 305.3) scale(0.95 1) translate(-531.8 -305.3)">1</text>
<text x="531.8" y="319.2" font-size="12.7" text-anchor="middle" fill="#111" transform="translate(531.8 319.2) scale(0.95 1) translate(-531.8 -319.2)">500</text>
<path d="M531.8 268L531.8 293.2" stroke="#161616" stroke-width="0.9"/>
<ellipse cx="472" cy="361" rx="14.9" ry="15.4" stroke="#161616" stroke-width="0.95" fill="none"/>
<path d="M457.1 361.2L486.9 361.2" stroke="#161616" stroke-width="0.95"/>
<text x="472" y="358.5" font-size="12.7" text-anchor="middle" fill="#111" transform="translate(472 358.5) scale(0.95 1) translate(-472 -358.5)">7</text>
<text x="472" y="372.4" font-size="12.7" text-anchor="middle" fill="#111" transform="translate(472 372.4) scale(0.95 1) translate(-472 -372.4)">501</text>
<path d="M486.8 361.2L509.8 361.2" stroke="#161616" stroke-width="0.9"/>
<ellipse cx="629" cy="356.1" rx="14.9" ry="15.4" stroke="#161616" stroke-width="0.95" fill="none"/>
<path d="M614.1 356.3L643.9 356.3" stroke="#161616" stroke-width="0.95"/>
<text x="629" y="353.6" font-size="12.7" text-anchor="middle" fill="#111" transform="translate(629 353.6) scale(0.95 1) translate(-629 -353.6)">6</text>
<text x="629" y="367.5" font-size="12.7" text-anchor="middle" fill="#111" transform="translate(629 367.5) scale(0.95 1) translate(-629 -367.5)">500</text>
<path d="M592.4 356.3L614.2 356.3" stroke="#161616" stroke-width="0.9"/>
<ellipse cx="413.8" cy="406.8" rx="14.9" ry="15.4" stroke="#161616" stroke-width="0.95" fill="none"/>
<path d="M398.9 407L428.7 407" stroke="#161616" stroke-width="0.95"/>
<text x="413.8" y="404.3" font-size="12.7" text-anchor="middle" fill="#111" transform="translate(413.8 404.3) scale(0.95 1) translate(-413.8 -404.3)">8</text>
<text x="413.8" y="418.2" font-size="12.7" text-anchor="middle" fill="#111" transform="translate(413.8 418.2) scale(0.95 1) translate(-413.8 -418.2)">501</text>
<path d="M428.6 407L451.9 407" stroke="#161616" stroke-width="0.9"/>
<ellipse cx="562.4" cy="427.4" rx="14.9" ry="15.4" stroke="#161616" stroke-width="0.95" fill="none"/>
<path d="M547.5 427.6L577.3 427.6" stroke="#161616" stroke-width="0.95"/>
<text x="562.4" y="424.9" font-size="12.7" text-anchor="middle" fill="#111" transform="translate(562.4 424.9) scale(0.95 1) translate(-562.4 -424.9)">2</text>
<text x="562.4" y="438.8" font-size="12.7" text-anchor="middle" fill="#111" transform="translate(562.4 438.8) scale(0.95 1) translate(-562.4 -438.8)">500</text>
<path d="M562.4 387.8L562.4 412.8" stroke="#161616" stroke-width="0.9"/>
<ellipse cx="468.2" cy="485.1" rx="14.9" ry="15.4" stroke="#161616" stroke-width="0.95" fill="none"/>
<path d="M453.3 485.3L483.1 485.3" stroke="#161616" stroke-width="0.95"/>
<text x="468.2" y="482.6" font-size="12.7" text-anchor="middle" fill="#111" transform="translate(468.2 482.6) scale(0.95 1) translate(-468.2 -482.6)">5</text>
<text x="468.2" y="496.5" font-size="12.7" text-anchor="middle" fill="#111" transform="translate(468.2 496.5) scale(0.95 1) translate(-468.2 -496.5)">500</text>
<path d="M468.2 445.6L468.2 470.5" stroke="#161616" stroke-width="0.9"/>
<ellipse cx="526.2" cy="485.1" rx="14.9" ry="15.4" stroke="#161616" stroke-width="0.95" fill="none"/>
<path d="M511.3 485.3L541.1 485.3" stroke="#161616" stroke-width="0.95"/>
<text x="526.2" y="482.6" font-size="12.7" text-anchor="middle" fill="#111" transform="translate(526.2 482.6) scale(0.95 1) translate(-526.2 -482.6)">3</text>
<text x="526.2" y="496.5" font-size="12.7" text-anchor="middle" fill="#111" transform="translate(526.2 496.5) scale(0.95 1) translate(-526.2 -496.5)">500</text>
<path d="M526.2 445L526.2 470.5" stroke="#161616" stroke-width="0.9"/>
<path d="M449.8 434.55L453.4 427.95L461.2 427.95L464.8 434.55L461.2 441.15L453.4 441.15Z" stroke="#161616" stroke-width="0.9"/>
<text x="457" y="437.65" font-size="8.8" text-anchor="middle" fill="#111">4</text>
<path d="M508.9 394.95L512.5 388.35L520.3 388.35L523.9 394.95L520.3 401.55L512.5 401.55Z" stroke="#161616" stroke-width="0.9"/>
<text x="516.1" y="398.05" font-size="8.8" text-anchor="middle" fill="#111">4</text>
<path d="M508.9 448.15L512.5 441.55L520.3 441.55L523.9 448.15L520.3 454.75L512.5 454.75Z" stroke="#161616" stroke-width="0.9"/>
<text x="516.1" y="451.25" font-size="8.8" text-anchor="middle" fill="#111">4</text>
<path d="M433.6 214.3L433.6 257.5" stroke="#161616" stroke-width="1.5"/>
<path d="M606.9 214.3L606.9 257.5" stroke="#161616" stroke-width="1.5"/>
<path d="M433.6 214.8L511.7 214.8" stroke="#161616" stroke-width="1"/>
<path d="M528.3 214.8L606.9 214.8" stroke="#161616" stroke-width="1"/>
<path d="M433.6 214.8L437.1 213.85L437.1 215.75Z" fill="#161616" stroke="#161616" stroke-width="0.3"/>
<path d="M606.9 214.8L603.4 213.85L603.4 215.75Z" fill="#161616" stroke="#161616" stroke-width="0.3"/>
<g transform="translate(512.3 0) scale(0.91 1) translate(-512.3 0)">
<text x="512.3" y="216.78" font-size="5.5" text-anchor="start" fill="#1a1a1a">8' R.O.</text>
</g>
<path d="M425.8 221L433.3 221" stroke="#161616" stroke-width="1"/>
<path d="M433.3 221L429.8 220.05L429.8 221.95Z" fill="#161616" stroke="#161616" stroke-width="0.3"/>
<path d="M433.9 221L441.4 221" stroke="#161616" stroke-width="1"/>
<path d="M433.9 221L437.4 220.05L437.4 221.95Z" fill="#161616" stroke="#161616" stroke-width="0.3"/>
<g transform="translate(420.97 0) scale(0.93 1) translate(-420.97 0)">
<text x="422.03" y="219.9" font-size="4" text-anchor="middle" fill="#1a1a1a">1</text>
<text x="422.03" y="224.96" font-size="4" text-anchor="middle" fill="#1a1a1a">4</text>
<path d="M420.72 221L423.34 221" stroke="#1a1a1a" stroke-width="0.5"/>
<text x="423.44" y="222.98" font-size="5.5" text-anchor="start" fill="#1a1a1a">"</text>
</g>
<path d="M599.6 221L606.6 221" stroke="#161616" stroke-width="1"/>
<path d="M606.6 221L603.1 220.05L603.1 221.95Z" fill="#161616" stroke="#161616" stroke-width="0.3"/>
<path d="M607.2 221L614.2 221" stroke="#161616" stroke-width="1"/>
<path d="M607.2 221L610.7 220.05L610.7 221.95Z" fill="#161616" stroke="#161616" stroke-width="0.3"/>
<g transform="translate(614.6 0) scale(0.93 1) translate(-614.6 0)">
<text x="615.66" y="219.9" font-size="4" text-anchor="middle" fill="#1a1a1a">1</text>
<text x="615.66" y="224.96" font-size="4" text-anchor="middle" fill="#1a1a1a">4</text>
<path d="M614.35 221L616.97 221" stroke="#1a1a1a" stroke-width="0.5"/>
<text x="617.07" y="222.98" font-size="5.5" text-anchor="start" fill="#1a1a1a">"</text>
</g>
<path d="M434.1 228.5L498.06 228.5" stroke="#161616" stroke-width="1"/>
<path d="M542.74 228.5L606.4 228.5" stroke="#161616" stroke-width="1"/>
<path d="M434.1 228.5L437.6 227.55L437.6 229.45Z" fill="#161616" stroke="#161616" stroke-width="0.3"/>
<path d="M606.4 228.5L602.9 227.55L602.9 229.45Z" fill="#161616" stroke="#161616" stroke-width="0.3"/>
<g transform="translate(500.86 0) scale(0.91 1) translate(-500.86 0)">
<text x="500.86" y="230.48" font-size="5.5" text-anchor="start" fill="#1a1a1a">7'-11</text>
<text x="513.57" y="227.4" font-size="4" text-anchor="middle" fill="#1a1a1a">1</text>
<text x="513.57" y="232.46" font-size="4" text-anchor="middle" fill="#1a1a1a">2</text>
<path d="M512.26 228.5L514.89 228.5" stroke="#1a1a1a" stroke-width="0.5"/>
<text x="514.99" y="230.48" font-size="5.5" text-anchor="start" fill="#1a1a1a">"&#160;&#160;F.D. [95</text>
<text x="540.01" y="227.4" font-size="4" text-anchor="middle" fill="#1a1a1a">1</text>
<text x="540.01" y="232.46" font-size="4" text-anchor="middle" fill="#1a1a1a">2</text>
<path d="M538.7 228.5L541.32 228.5" stroke="#1a1a1a" stroke-width="0.5"/>
<text x="541.42" y="230.48" font-size="5.5" text-anchor="start" fill="#1a1a1a">]</text>
</g>
<path d="M436.7 242.6L436.7 261" stroke="#161616" stroke-width="1"/>
<path d="M502 242.6L502 261" stroke="#161616" stroke-width="1"/>
<path d="M505.2 242.6L505.2 261" stroke="#161616" stroke-width="1"/>
<path d="M603.6 242.6L603.6 261" stroke="#161616" stroke-width="1"/>
<path d="M436.7 243L461.2 243" stroke="#161616" stroke-width="1"/>
<path d="M477.8 243L502 243" stroke="#161616" stroke-width="1"/>
<path d="M436.7 243L440.2 242.05L440.2 243.95Z" fill="#161616" stroke="#161616" stroke-width="0.3"/>
<path d="M502 243L498.5 242.05L498.5 243.95Z" fill="#161616" stroke="#161616" stroke-width="0.3"/>
<g transform="translate(461.8 0) scale(0.91 1) translate(-461.8 0)">
<text x="461.8" y="244.98" font-size="5.5" text-anchor="start" fill="#1a1a1a">3' D.O.</text>
</g>
<path d="M505.2 243.3L540.48 243.3" stroke="#161616" stroke-width="1"/>
<path d="M567.52 243.3L603.6 243.3" stroke="#161616" stroke-width="1"/>
<path d="M505.2 243.3L508.7 242.35L508.7 244.25Z" fill="#161616" stroke="#161616" stroke-width="0.3"/>
<path d="M603.6 243.3L600.1 242.35L600.1 244.25Z" fill="#161616" stroke="#161616" stroke-width="0.3"/>
<g transform="translate(541.08 0) scale(0.91 1) translate(-541.08 0)">
<text x="541.08" y="245.28" font-size="5.5" text-anchor="start" fill="#1a1a1a">54</text>
<text x="548.26" y="242.2" font-size="4" text-anchor="middle" fill="#1a1a1a">1</text>
<text x="548.26" y="247.26" font-size="4" text-anchor="middle" fill="#1a1a1a">4</text>
<path d="M546.95 243.3L549.58 243.3" stroke="#1a1a1a" stroke-width="0.5"/>
<text x="549.68" y="245.28" font-size="5.5" text-anchor="start" fill="#1a1a1a">" D.L.O.</text>
</g>
<path d="M426.3 250L433.6 250" stroke="#161616" stroke-width="1"/>
<path d="M433.6 250L430.1 249.05L430.1 250.95Z" fill="#161616" stroke="#161616" stroke-width="0.3"/>
<path d="M436.7 250L444 250" stroke="#161616" stroke-width="1"/>
<path d="M436.7 250L440.2 249.05L440.2 250.95Z" fill="#161616" stroke="#161616" stroke-width="0.3"/>
<g transform="translate(418.69 0) scale(0.92 1) translate(-418.69 0)">
<text x="418.69" y="251.98" font-size="5.5" text-anchor="start" fill="#1a1a1a">1</text>
<text x="422.81" y="248.9" font-size="4" text-anchor="middle" fill="#1a1a1a">1</text>
<text x="422.81" y="253.96" font-size="4" text-anchor="middle" fill="#1a1a1a">2</text>
<path d="M421.5 250L424.12 250" stroke="#1a1a1a" stroke-width="0.5"/>
<text x="424.22" y="251.98" font-size="5.5" text-anchor="start" fill="#1a1a1a">"</text>
</g>
<path d="M494.7 250L502 250" stroke="#161616" stroke-width="1"/>
<path d="M502 250L498.5 249.05L498.5 250.95Z" fill="#161616" stroke="#161616" stroke-width="0.3"/>
<path d="M505.2 250L512.5 250" stroke="#161616" stroke-width="1"/>
<path d="M505.2 250L508.7 249.05L508.7 250.95Z" fill="#161616" stroke="#161616" stroke-width="0.3"/>
<g transform="translate(512.9 0) scale(0.92 1) translate(-512.9 0)">
<text x="512.9" y="251.98" font-size="5.5" text-anchor="start" fill="#1a1a1a">1</text>
<text x="517.02" y="248.9" font-size="4" text-anchor="middle" fill="#1a1a1a">3</text>
<text x="517.02" y="253.96" font-size="4" text-anchor="middle" fill="#1a1a1a">4</text>
<path d="M515.71 250L518.33 250" stroke="#1a1a1a" stroke-width="0.5"/>
<text x="518.43" y="251.98" font-size="5.5" text-anchor="start" fill="#1a1a1a">"</text>
</g>
<path d="M596.3 250L603.6 250" stroke="#161616" stroke-width="1"/>
<path d="M603.6 250L600.1 249.05L600.1 250.95Z" fill="#161616" stroke="#161616" stroke-width="0.3"/>
<path d="M606.9 250L614.2 250" stroke="#161616" stroke-width="1"/>
<path d="M606.9 250L610.4 249.05L610.4 250.95Z" fill="#161616" stroke="#161616" stroke-width="0.3"/>
<g transform="translate(614.6 0) scale(0.92 1) translate(-614.6 0)">
<text x="614.6" y="251.98" font-size="5.5" text-anchor="start" fill="#1a1a1a">1</text>
<text x="618.72" y="248.9" font-size="4" text-anchor="middle" fill="#1a1a1a">1</text>
<text x="618.72" y="253.96" font-size="4" text-anchor="middle" fill="#1a1a1a">2</text>
<path d="M617.41 250L620.03 250" stroke="#1a1a1a" stroke-width="0.5"/>
<text x="620.13" y="251.98" font-size="5.5" text-anchor="start" fill="#1a1a1a">"</text>
</g>
<path d="M370.8 276.3L415.3 276.3" stroke="#161616" stroke-width="1.5"/>
<path d="M398.3 279.8L419.3 279.8" stroke="#161616" stroke-width="1"/>
<path d="M370.8 461.6L415.3 461.6" stroke="#161616" stroke-width="1.2"/>
<path d="M415.3 461.7L419.3 461.7" stroke="#161616" stroke-width="1"/>
<path d="M371.3 276.6L371.3 358.1" stroke="#161616" stroke-width="1"/>
<path d="M371.3 379.5L371.3 461.3" stroke="#161616" stroke-width="1"/>
<path d="M371.3 276.6L370.35 280.1L372.25 280.1Z" fill="#161616" stroke="#161616" stroke-width="0.3"/>
<path d="M371.3 461.3L370.35 457.8L372.25 457.8Z" fill="#161616" stroke="#161616" stroke-width="0.3"/>
<g transform="rotate(-90 371.3 368.8) translate(361.2 0) scale(0.85 1) translate(-361.2 0)">
<text x="361.2" y="370.78" font-size="5.5" text-anchor="start" fill="#1a1a1a">8'-2" R.O.</text>
</g>
<path d="M386.3 276.6L386.3 345.6" stroke="#161616" stroke-width="1"/>
<path d="M386.3 392L386.3 461.3" stroke="#161616" stroke-width="1"/>
<path d="M386.3 276.6L385.35 280.1L387.25 280.1Z" fill="#161616" stroke="#161616" stroke-width="0.3"/>
<path d="M386.3 461.3L385.35 457.8L387.25 457.8Z" fill="#161616" stroke="#161616" stroke-width="0.3"/>
<g transform="rotate(-90 386.3 368.8) translate(366.2 0) scale(1 1) translate(-366.2 0)">
<text x="366.2" y="370.78" font-size="5.5" text-anchor="start" fill="#1a1a1a">8'-1</text>
<text x="376.26" y="367.7" font-size="4" text-anchor="middle" fill="#1a1a1a">1</text>
<text x="376.26" y="372.76" font-size="4" text-anchor="middle" fill="#1a1a1a">2</text>
<path d="M374.95 368.8L377.57 368.8" stroke="#1a1a1a" stroke-width="0.5"/>
<text x="377.67" y="370.78" font-size="5.5" text-anchor="start" fill="#1a1a1a">"&#160;&#160;F.D. [97</text>
<text x="402.7" y="367.7" font-size="4" text-anchor="middle" fill="#1a1a1a">1</text>
<text x="402.7" y="372.76" font-size="4" text-anchor="middle" fill="#1a1a1a">2</text>
<path d="M401.38 368.8L404.01 368.8" stroke="#1a1a1a" stroke-width="0.5"/>
<text x="404.11" y="370.78" font-size="5.5" text-anchor="start" fill="#1a1a1a">]</text>
</g>
<path d="M398.6 280L398.6 361.9" stroke="#161616" stroke-width="1"/>
<path d="M398.6 379.5L398.6 461.3" stroke="#161616" stroke-width="1"/>
<path d="M398.6 280L397.65 283.5L399.55 283.5Z" fill="#161616" stroke="#161616" stroke-width="0.3"/>
<path d="M398.6 461.3L397.65 457.8L399.55 457.8Z" fill="#161616" stroke="#161616" stroke-width="0.3"/>
<g transform="rotate(-90 398.6 370.7) translate(390.4 0) scale(0.97 1) translate(-390.4 0)">
<text x="390.4" y="372.68" font-size="5.5" text-anchor="start" fill="#1a1a1a">8' D.O.</text>
</g>
<path d="M376.3 268.6L376.3 276.1" stroke="#161616" stroke-width="1"/>
<path d="M376.3 276.1L375.35 272.6L377.25 272.6Z" fill="#161616" stroke="#161616" stroke-width="0.3"/>
<path d="M376.3 276.6L376.3 284.1" stroke="#161616" stroke-width="1"/>
<path d="M376.3 276.6L375.35 280.1L377.25 280.1Z" fill="#161616" stroke="#161616" stroke-width="0.3"/>
<path d="M376.3 268.6L380.8 268.6" stroke="#161616" stroke-width="1"/>
<g transform="translate(381.1 0) scale(0.93 1) translate(-381.1 0)">
<text x="382.16" y="267.5" font-size="4" text-anchor="middle" fill="#1a1a1a">1</text>
<text x="382.16" y="272.56" font-size="4" text-anchor="middle" fill="#1a1a1a">4</text>
<path d="M380.85 268.6L383.47 268.6" stroke="#1a1a1a" stroke-width="0.5"/>
<text x="383.57" y="270.58" font-size="5.5" text-anchor="start" fill="#1a1a1a">"</text>
</g>
<path d="M404.8 268.8L404.8 276.3" stroke="#161616" stroke-width="1"/>
<path d="M404.8 276.3L403.85 272.8L405.75 272.8Z" fill="#161616" stroke="#161616" stroke-width="0.3"/>
<path d="M404.8 279.8L404.8 287.3" stroke="#161616" stroke-width="1"/>
<path d="M404.8 279.8L403.85 283.3L405.75 283.3Z" fill="#161616" stroke="#161616" stroke-width="0.3"/>
<path d="M404.8 268.8L409.3 268.8" stroke="#161616" stroke-width="1"/>
<g transform="translate(409.6 0) scale(0.92 1) translate(-409.6 0)">
<text x="409.6" y="270.78" font-size="5.5" text-anchor="start" fill="#1a1a1a">1</text>
<text x="413.72" y="267.7" font-size="4" text-anchor="middle" fill="#1a1a1a">3</text>
<text x="413.72" y="272.76" font-size="4" text-anchor="middle" fill="#1a1a1a">4</text>
<path d="M412.41 268.8L415.03 268.8" stroke="#1a1a1a" stroke-width="0.5"/>
<text x="415.13" y="270.78" font-size="5.5" text-anchor="start" fill="#1a1a1a">"</text>
</g>
<path d="M624.7 276.3L674.3 276.3" stroke="#161616" stroke-width="1.5"/>
<path d="M620.7 279.7L645.2 279.7" stroke="#161616" stroke-width="1"/>
<path d="M620.2 404.5L645.2 404.5" stroke="#161616" stroke-width="1.1"/>
<path d="M620.2 408.3L645.2 408.3" stroke="#161616" stroke-width="1.1"/>
<path d="M620.2 457.7L645.2 457.7" stroke="#161616" stroke-width="1.1"/>
<path d="M624.7 461.4L667.5 461.4" stroke="#161616" stroke-width="1.5"/>
<path d="M667.2 461.5L674.3 461.5" stroke="#161616" stroke-width="1"/>
<path d="M644.9 280L644.9 329.1" stroke="#161616" stroke-width="1"/>
<path d="M644.9 354.7L644.9 404.2" stroke="#161616" stroke-width="1"/>
<path d="M644.9 280L643.95 283.5L645.85 283.5Z" fill="#161616" stroke="#161616" stroke-width="0.3"/>
<path d="M644.9 404.2L643.95 400.7L645.85 400.7Z" fill="#161616" stroke="#161616" stroke-width="0.3"/>
<g transform="rotate(-90 644.9 341.9) translate(632.7 0) scale(0.96 1) translate(-632.7 0)">
<text x="632.7" y="343.88" font-size="5.5" text-anchor="start" fill="#1a1a1a">56" D.L.O.</text>
</g>
<path d="M644.9 408.6L644.9 418.8" stroke="#161616" stroke-width="1"/>
<path d="M644.9 448L644.9 457.4" stroke="#161616" stroke-width="1"/>
<path d="M644.9 408.6L643.95 412.1L645.85 412.1Z" fill="#161616" stroke="#161616" stroke-width="0.3"/>
<path d="M644.9 457.4L643.95 453.9L645.85 453.9Z" fill="#161616" stroke="#161616" stroke-width="0.3"/>
<g transform="rotate(-90 644.9 433.4) translate(630.9 0) scale(0.99 1) translate(-630.9 0)">
<text x="630.9" y="435.38" font-size="5.5" text-anchor="start" fill="#1a1a1a">20</text>
<text x="638.08" y="432.3" font-size="4" text-anchor="middle" fill="#1a1a1a">1</text>
<text x="638.08" y="437.36" font-size="4" text-anchor="middle" fill="#1a1a1a">8</text>
<path d="M636.77 433.4L639.39 433.4" stroke="#1a1a1a" stroke-width="0.5"/>
<text x="639.49" y="435.38" font-size="5.5" text-anchor="start" fill="#1a1a1a">" D.L.O.</text>
</g>
<path d="M658.7 276.6L658.7 345.2" stroke="#161616" stroke-width="1"/>
<path d="M658.7 391.8L658.7 461.1" stroke="#161616" stroke-width="1"/>
<path d="M658.7 276.6L657.75 280.1L659.65 280.1Z" fill="#161616" stroke="#161616" stroke-width="0.3"/>
<path d="M658.7 461.1L657.75 457.6L659.65 457.6Z" fill="#161616" stroke="#161616" stroke-width="0.3"/>
<g transform="rotate(-90 658.7 368.5) translate(638.5 0) scale(1.01 1) translate(-638.5 0)">
<text x="638.5" y="370.48" font-size="5.5" text-anchor="start" fill="#1a1a1a">8'-1</text>
<text x="648.56" y="367.4" font-size="4" text-anchor="middle" fill="#1a1a1a">1</text>
<text x="648.56" y="372.46" font-size="4" text-anchor="middle" fill="#1a1a1a">2</text>
<path d="M647.25 368.5L649.87 368.5" stroke="#1a1a1a" stroke-width="0.5"/>
<text x="649.97" y="370.48" font-size="5.5" text-anchor="start" fill="#1a1a1a">"&#160;&#160;F.D. [97</text>
<text x="675" y="367.4" font-size="4" text-anchor="middle" fill="#1a1a1a">1</text>
<text x="675" y="372.46" font-size="4" text-anchor="middle" fill="#1a1a1a">2</text>
<path d="M673.68 368.5L676.31 368.5" stroke="#1a1a1a" stroke-width="0.5"/>
<text x="676.41" y="370.48" font-size="5.5" text-anchor="start" fill="#1a1a1a">]</text>
</g>
<path d="M673.9 276.6L673.9 358.35" stroke="#161616" stroke-width="1"/>
<path d="M673.9 380.05L673.9 461.1" stroke="#161616" stroke-width="1"/>
<path d="M673.9 276.6L672.95 280.1L674.85 280.1Z" fill="#161616" stroke="#161616" stroke-width="0.3"/>
<path d="M673.9 461.1L672.95 457.6L674.85 457.6Z" fill="#161616" stroke="#161616" stroke-width="0.3"/>
<g transform="rotate(-90 673.9 369.2) translate(663.65 0) scale(0.86 1) translate(-663.65 0)">
<text x="663.65" y="371.18" font-size="5.5" text-anchor="start" fill="#1a1a1a">8'-2" R.O.</text>
</g>
<path d="M632.5 268.8L632.5 276.3" stroke="#161616" stroke-width="1"/>
<path d="M632.5 276.3L631.55 272.8L633.45 272.8Z" fill="#161616" stroke="#161616" stroke-width="0.3"/>
<path d="M632.5 279.7L632.5 287.2" stroke="#161616" stroke-width="1"/>
<path d="M632.5 279.7L631.55 283.2L633.45 283.2Z" fill="#161616" stroke="#161616" stroke-width="0.3"/>
<path d="M632.5 268.8L637 268.8" stroke="#161616" stroke-width="1"/>
<g transform="translate(637.3 0) scale(0.92 1) translate(-637.3 0)">
<text x="637.3" y="270.78" font-size="5.5" text-anchor="start" fill="#1a1a1a">1</text>
<text x="641.42" y="267.7" font-size="4" text-anchor="middle" fill="#1a1a1a">3</text>
<text x="641.42" y="272.76" font-size="4" text-anchor="middle" fill="#1a1a1a">4</text>
<path d="M640.11 268.8L642.73 268.8" stroke="#1a1a1a" stroke-width="0.5"/>
<text x="642.83" y="270.78" font-size="5.5" text-anchor="start" fill="#1a1a1a">"</text>
</g>
<path d="M668.5 268.6L668.5 276.1" stroke="#161616" stroke-width="1"/>
<path d="M668.5 276.1L667.55 272.6L669.45 272.6Z" fill="#161616" stroke="#161616" stroke-width="0.3"/>
<path d="M668.5 276.6L668.5 284.1" stroke="#161616" stroke-width="1"/>
<path d="M668.5 276.6L667.55 280.1L669.45 280.1Z" fill="#161616" stroke="#161616" stroke-width="0.3"/>
<path d="M668.5 268.6L673 268.6" stroke="#161616" stroke-width="1"/>
<g transform="translate(673.3 0) scale(0.93 1) translate(-673.3 0)">
<text x="674.36" y="267.5" font-size="4" text-anchor="middle" fill="#1a1a1a">1</text>
<text x="674.36" y="272.56" font-size="4" text-anchor="middle" fill="#1a1a1a">4</text>
<path d="M673.05 268.6L675.67 268.6" stroke="#1a1a1a" stroke-width="0.5"/>
<text x="675.77" y="270.58" font-size="5.5" text-anchor="start" fill="#1a1a1a">"</text>
</g>
<path d="M633.7 397L633.7 404.5" stroke="#161616" stroke-width="1"/>
<path d="M633.7 404.5L632.75 401L634.65 401Z" fill="#161616" stroke="#161616" stroke-width="0.3"/>
<path d="M633.7 408.3L633.7 415.8" stroke="#161616" stroke-width="1"/>
<path d="M633.7 408.3L632.75 411.8L634.65 411.8Z" fill="#161616" stroke="#161616" stroke-width="0.3"/>
<path d="M633.7 397L638.2 397" stroke="#161616" stroke-width="1"/>
<g transform="translate(638.5 0) scale(0.92 1) translate(-638.5 0)">
<text x="638.5" y="398.98" font-size="5.5" text-anchor="start" fill="#1a1a1a">1</text>
<text x="642.62" y="395.9" font-size="4" text-anchor="middle" fill="#1a1a1a">3</text>
<text x="642.62" y="400.96" font-size="4" text-anchor="middle" fill="#1a1a1a">4</text>
<path d="M641.31 397L643.93 397" stroke="#1a1a1a" stroke-width="0.5"/>
<text x="644.03" y="398.98" font-size="5.5" text-anchor="start" fill="#1a1a1a">"</text>
</g>
<path d="M634.7 450.2L634.7 457.7" stroke="#161616" stroke-width="1"/>
<path d="M634.7 457.7L633.75 454.2L635.65 454.2Z" fill="#161616" stroke="#161616" stroke-width="0.3"/>
<path d="M634.7 461.4L634.7 468.9" stroke="#161616" stroke-width="1"/>
<path d="M634.7 461.4L633.75 464.9L635.65 464.9Z" fill="#161616" stroke="#161616" stroke-width="0.3"/>
<path d="M634.7 450.2L639.2 450.2" stroke="#161616" stroke-width="1"/>
<g transform="translate(639.5 0) scale(0.92 1) translate(-639.5 0)">
<text x="639.5" y="452.18" font-size="5.5" text-anchor="start" fill="#1a1a1a">1</text>
<text x="643.62" y="449.1" font-size="4" text-anchor="middle" fill="#1a1a1a">3</text>
<text x="643.62" y="454.16" font-size="4" text-anchor="middle" fill="#1a1a1a">4</text>
<path d="M642.31 450.2L644.93 450.2" stroke="#1a1a1a" stroke-width="0.5"/>
<text x="645.03" y="452.18" font-size="5.5" text-anchor="start" fill="#1a1a1a">"</text>
</g>
<path d="M667.5 453.3L667.5 461.1" stroke="#161616" stroke-width="1"/>
<path d="M667.5 461.1L666.55 457.6L668.45 457.6Z" fill="#161616" stroke="#161616" stroke-width="0.3"/>
<path d="M667.5 461.6L667.5 469.4" stroke="#161616" stroke-width="1"/>
<path d="M667.5 461.6L666.55 465.1L668.45 465.1Z" fill="#161616" stroke="#161616" stroke-width="0.3"/>
<path d="M667.5 469.4L663.6 469.4" stroke="#161616" stroke-width="1"/>
<g transform="translate(658.87 0) scale(0.93 1) translate(-658.87 0)">
<text x="659.93" y="468.3" font-size="4" text-anchor="middle" fill="#1a1a1a">1</text>
<text x="659.93" y="473.36" font-size="4" text-anchor="middle" fill="#1a1a1a">4</text>
<path d="M658.62 469.4L661.24 469.4" stroke="#1a1a1a" stroke-width="0.5"/>
<text x="661.34" y="471.38" font-size="5.5" text-anchor="start" fill="#1a1a1a">"</text>
</g>
<path d="M771.4 264.5L984 264.5L984 461.8L771.4 461.8Z" stroke="#161616" stroke-width="1"/>
<path d="M775.4 268.3L807.5 268.3" stroke="#161616" stroke-width="1"/>
<path d="M810.8 268.3L875.8 268.3" stroke="#161616" stroke-width="1.5"/>
<path d="M879.3 268.3L980.4 268.3" stroke="#161616" stroke-width="1"/>
<path d="M775.4 264.5L775.4 461.8" stroke="#161616" stroke-width="1"/>
<path d="M807.5 264.5L807.5 461.8" stroke="#161616" stroke-width="1"/>
<path d="M810.8 264.5L810.8 461.8" stroke="#161616" stroke-width="1.5"/>
<path d="M819.6 268.3L819.6 461.8" stroke="#161616" stroke-width="1"/>
<path d="M867 268.3L867 461.8" stroke="#161616" stroke-width="1"/>
<path d="M819.6 277.5L867 277.5" stroke="#161616" stroke-width="1"/>
<path d="M819.6 443.3L867 443.3" stroke="#161616" stroke-width="1"/>
<path d="M875.8 264.5L875.8 461.8" stroke="#161616" stroke-width="1.5"/>
<path d="M879.3 264.5L879.3 461.8" stroke="#161616" stroke-width="1"/>
<path d="M980.4 264.5L980.4 461.8" stroke="#161616" stroke-width="1"/>
<path d="M810.8 461.8L875.8 461.8" stroke="#161616" stroke-width="1.5"/>
<path d="M775.4 405L807.5 405" stroke="#161616" stroke-width="1"/>
<path d="M775.4 408.8L807.5 408.8" stroke="#161616" stroke-width="1"/>
<path d="M775.4 458L807.5 458" stroke="#161616" stroke-width="1"/>
<path d="M879.3 405L980.4 405" stroke="#161616" stroke-width="1"/>
<path d="M879.3 408.8L980.4 408.8" stroke="#161616" stroke-width="1"/>
<path d="M879.3 458L980.4 458" stroke="#161616" stroke-width="1"/>
<path d="M875.8 268.3L810.8 365L875.8 461.8" stroke="#161616" stroke-width="0.8"/>
<ellipse cx="838" cy="296.8" rx="14.9" ry="15.4" stroke="#161616" stroke-width="0.95" fill="none"/>
<path d="M823.1 297L852.9 297" stroke="#161616" stroke-width="0.95"/>
<text x="838" y="294.3" font-size="12.7" text-anchor="middle" fill="#111" transform="translate(838 294.3) scale(0.95 1) translate(-838 -294.3)">4</text>
<text x="838" y="308.2" font-size="12.7" text-anchor="middle" fill="#111" transform="translate(838 308.2) scale(0.95 1) translate(-838 -308.2)">400</text>
<path d="M838 257.5L838 282.2" stroke="#161616" stroke-width="0.9"/>
<ellipse cx="921" cy="296.8" rx="14.9" ry="15.4" stroke="#161616" stroke-width="0.95" fill="none"/>
<path d="M906.1 297L935.9 297" stroke="#161616" stroke-width="0.95"/>
<text x="921" y="294.3" font-size="12.7" text-anchor="middle" fill="#111" transform="translate(921 294.3) scale(0.95 1) translate(-921 -294.3)">1</text>
<text x="921" y="308.2" font-size="12.7" text-anchor="middle" fill="#111" transform="translate(921 308.2) scale(0.95 1) translate(-921 -308.2)">400</text>
<path d="M921 257.5L921 282.2" stroke="#161616" stroke-width="0.9"/>
<ellipse cx="902.2" cy="366.4" rx="14.9" ry="15.4" stroke="#161616" stroke-width="0.95" fill="none"/>
<path d="M887.3 366.6L917.1 366.6" stroke="#161616" stroke-width="0.95"/>
<text x="902.2" y="363.9" font-size="12.7" text-anchor="middle" fill="#111" transform="translate(902.2 363.9) scale(0.95 1) translate(-902.2 -363.9)">7</text>
<text x="902.2" y="377.8" font-size="12.7" text-anchor="middle" fill="#111" transform="translate(902.2 377.8) scale(0.95 1) translate(-902.2 -377.8)">401</text>
<path d="M864.3 366.6L887.4 366.6" stroke="#161616" stroke-width="0.9"/>
<ellipse cx="752.8" cy="329" rx="14.9" ry="15.4" stroke="#161616" stroke-width="0.95" fill="none"/>
<path d="M737.9 329.2L767.7 329.2" stroke="#161616" stroke-width="0.95"/>
<text x="752.8" y="326.5" font-size="12.7" text-anchor="middle" fill="#111" transform="translate(752.8 326.5) scale(0.95 1) translate(-752.8 -326.5)">6</text>
<text x="752.8" y="340.4" font-size="12.7" text-anchor="middle" fill="#111" transform="translate(752.8 340.4) scale(0.95 1) translate(-752.8 -340.4)">400</text>
<path d="M767.6 329.2L786.3 329.2" stroke="#161616" stroke-width="0.9"/>
<ellipse cx="1004.8" cy="361.6" rx="14.9" ry="15.4" stroke="#161616" stroke-width="0.95" fill="none"/>
<path d="M989.9 361.8L1019.7 361.8" stroke="#161616" stroke-width="0.95"/>
<text x="1004.8" y="359.1" font-size="12.7" text-anchor="middle" fill="#111" transform="translate(1004.8 359.1) scale(0.95 1) translate(-1004.8 -359.1)">6</text>
<text x="1004.8" y="373" font-size="12.7" text-anchor="middle" fill="#111" transform="translate(1004.8 373) scale(0.95 1) translate(-1004.8 -373)">400</text>
<path d="M968 361.8L990 361.8" stroke="#161616" stroke-width="0.9"/>
<ellipse cx="920.8" cy="432.8" rx="14.9" ry="15.4" stroke="#161616" stroke-width="0.95" fill="none"/>
<path d="M905.9 433L935.7 433" stroke="#161616" stroke-width="0.95"/>
<text x="920.8" y="430.3" font-size="12.7" text-anchor="middle" fill="#111" transform="translate(920.8 430.3) scale(0.95 1) translate(-920.8 -430.3)">2</text>
<text x="920.8" y="444.2" font-size="12.7" text-anchor="middle" fill="#111" transform="translate(920.8 444.2) scale(0.95 1) translate(-920.8 -444.2)">400</text>
<path d="M920.8 393.5L920.8 418.2" stroke="#161616" stroke-width="0.9"/>
<ellipse cx="798.5" cy="485.3" rx="14.9" ry="15.4" stroke="#161616" stroke-width="0.95" fill="none"/>
<path d="M783.6 485.5L813.4 485.5" stroke="#161616" stroke-width="0.95"/>
<text x="798.5" y="482.8" font-size="12.7" text-anchor="middle" fill="#111" transform="translate(798.5 482.8) scale(0.95 1) translate(-798.5 -482.8)">3</text>
<text x="798.5" y="496.7" font-size="12.7" text-anchor="middle" fill="#111" transform="translate(798.5 496.7) scale(0.95 1) translate(-798.5 -496.7)">400</text>
<path d="M798.5 445.8L798.5 470.7" stroke="#161616" stroke-width="0.9"/>
<ellipse cx="842.1" cy="485.3" rx="14.9" ry="15.4" stroke="#161616" stroke-width="0.95" fill="none"/>
<path d="M827.2 485.5L857 485.5" stroke="#161616" stroke-width="0.95"/>
<text x="842.1" y="482.8" font-size="12.7" text-anchor="middle" fill="#111" transform="translate(842.1 482.8) scale(0.95 1) translate(-842.1 -482.8)">5</text>
<text x="842.1" y="496.7" font-size="12.7" text-anchor="middle" fill="#111" transform="translate(842.1 496.7) scale(0.95 1) translate(-842.1 -496.7)">400</text>
<path d="M842.1 445.8L842.1 470.7" stroke="#161616" stroke-width="0.9"/>
<path d="M779.2 395.15L782.8 388.55L790.6 388.55L794.2 395.15L790.6 401.75L782.8 401.75Z" stroke="#161616" stroke-width="0.9"/>
<text x="786.4" y="398.25" font-size="8.8" text-anchor="middle" fill="#111">1</text>
<path d="M779.2 446.45L782.8 439.85L790.6 439.85L794.2 446.45L790.6 453.05L782.8 453.05Z" stroke="#161616" stroke-width="0.9"/>
<text x="786.4" y="449.55" font-size="8.8" text-anchor="middle" fill="#111">1</text>
<path d="M823.9 433.15L827.5 426.55L835.3 426.55L838.9 433.15L835.3 439.75L827.5 439.75Z" stroke="#161616" stroke-width="0.9"/>
<text x="831.1" y="436.25" font-size="8.8" text-anchor="middle" fill="#111">1</text>
<path d="M883.5 395.15L887.1 388.55L894.9 388.55L898.5 395.15L894.9 401.75L887.1 401.75Z" stroke="#161616" stroke-width="0.9"/>
<text x="890.7" y="398.25" font-size="8.8" text-anchor="middle" fill="#111">1</text>
<path d="M883.5 446.45L887.1 439.85L894.9 439.85L898.5 446.45L894.9 453.05L887.1 453.05Z" stroke="#161616" stroke-width="0.9"/>
<text x="890.7" y="449.55" font-size="8.8" text-anchor="middle" fill="#111">1</text>
<path d="M771.2 203L771.2 245.5" stroke="#161616" stroke-width="1.7"/>
<path d="M984 203L984 245.5" stroke="#161616" stroke-width="1.7"/>
<path d="M771.4 203.5L864.7 203.5" stroke="#161616" stroke-width="1"/>
<path d="M890.3 203.5L984 203.5" stroke="#161616" stroke-width="1"/>
<path d="M771.4 203.5L774.9 202.55L774.9 204.45Z" fill="#161616" stroke="#161616" stroke-width="0.3"/>
<path d="M984 203.5L980.5 202.55L980.5 204.45Z" fill="#161616" stroke="#161616" stroke-width="0.3"/>
<g transform="translate(865.3 0) scale(0.91 1) translate(-865.3 0)">
<text x="865.3" y="205.48" font-size="5.5" text-anchor="start" fill="#1a1a1a">9'-10" R.O.</text>
</g>
<path d="M763.6 210L770.9 210" stroke="#161616" stroke-width="1"/>
<path d="M770.9 210L767.4 209.05L767.4 210.95Z" fill="#161616" stroke="#161616" stroke-width="0.3"/>
<path d="M771.7 210L779 210" stroke="#161616" stroke-width="1"/>
<path d="M771.7 210L775.2 209.05L775.2 210.95Z" fill="#161616" stroke="#161616" stroke-width="0.3"/>
<g transform="translate(758.77 0) scale(0.93 1) translate(-758.77 0)">
<text x="759.83" y="208.9" font-size="4" text-anchor="middle" fill="#1a1a1a">3</text>
<text x="759.83" y="213.96" font-size="4" text-anchor="middle" fill="#1a1a1a">8</text>
<path d="M758.52 210L761.14 210" stroke="#1a1a1a" stroke-width="0.5"/>
<text x="761.24" y="211.98" font-size="5.5" text-anchor="start" fill="#1a1a1a">"</text>
</g>
<path d="M976.7 209.3L983.7 209.3" stroke="#161616" stroke-width="1"/>
<path d="M983.7 209.3L980.2 208.35L980.2 210.25Z" fill="#161616" stroke="#161616" stroke-width="0.3"/>
<path d="M984.5 209.3L991.5 209.3" stroke="#161616" stroke-width="1"/>
<path d="M984.5 209.3L988 208.35L988 210.25Z" fill="#161616" stroke="#161616" stroke-width="0.3"/>
<g transform="translate(991.9 0) scale(0.93 1) translate(-991.9 0)">
<text x="992.96" y="208.2" font-size="4" text-anchor="middle" fill="#1a1a1a">3</text>
<text x="992.96" y="213.26" font-size="4" text-anchor="middle" fill="#1a1a1a">8</text>
<path d="M991.65 209.3L994.27 209.3" stroke="#1a1a1a" stroke-width="0.5"/>
<text x="994.37" y="211.28" font-size="5.5" text-anchor="start" fill="#1a1a1a">"</text>
</g>
<path d="M772 220.3L855.5 220.3" stroke="#161616" stroke-width="1"/>
<path d="M899.9 220.3L983.5 220.3" stroke="#161616" stroke-width="1"/>
<path d="M772 220.3L775.5 219.35L775.5 221.25Z" fill="#161616" stroke="#161616" stroke-width="0.3"/>
<path d="M983.5 220.3L980 219.35L980 221.25Z" fill="#161616" stroke="#161616" stroke-width="0.3"/>
<g transform="translate(858.3 0) scale(0.91 1) translate(-858.3 0)">
<text x="858.3" y="222.28" font-size="5.5" text-anchor="start" fill="#1a1a1a">9' 9</text>
<text x="868.06" y="219.2" font-size="4" text-anchor="middle" fill="#1a1a1a">1</text>
<text x="868.06" y="224.26" font-size="4" text-anchor="middle" fill="#1a1a1a">4</text>
<path d="M866.74 220.3L869.37 220.3" stroke="#1a1a1a" stroke-width="0.5"/>
<text x="869.47" y="222.28" font-size="5.5" text-anchor="start" fill="#1a1a1a">"&#160;&#160;F.D. [117</text>
<text x="897.14" y="219.2" font-size="4" text-anchor="middle" fill="#1a1a1a">1</text>
<text x="897.14" y="224.26" font-size="4" text-anchor="middle" fill="#1a1a1a">4</text>
<path d="M895.83 220.3L898.46 220.3" stroke="#1a1a1a" stroke-width="0.5"/>
<text x="898.56" y="222.28" font-size="5.5" text-anchor="start" fill="#1a1a1a">]</text>
</g>
<path d="M775.4 230.6L775.4 249.5" stroke="#161616" stroke-width="1"/>
<path d="M807.5 230.6L807.5 249.5" stroke="#161616" stroke-width="1"/>
<path d="M810.8 230.6L810.8 249.5" stroke="#161616" stroke-width="1"/>
<path d="M876 230.6L876 249.5" stroke="#161616" stroke-width="1"/>
<path d="M879.5 230.6L879.5 249.5" stroke="#161616" stroke-width="1"/>
<path d="M980.4 230.6L980.4 249.5" stroke="#161616" stroke-width="1"/>
<path d="M767.5 231L778 231" stroke="#161616" stroke-width="1.3"/>
<path d="M775.4 231L778.9 230.05L778.9 231.95Z" fill="#161616" stroke="#161616" stroke-width="0.3"/>
<g transform="translate(779.2 0) scale(0.86 1) translate(-779.2 0)">
<text x="779.2" y="232.98" font-size="5.5" text-anchor="start" fill="#1a1a1a">17</text>
<text x="786.38" y="229.9" font-size="4" text-anchor="middle" fill="#1a1a1a">5</text>
<text x="786.38" y="234.96" font-size="4" text-anchor="middle" fill="#1a1a1a">8</text>
<path d="M785.07 231L787.69 231" stroke="#1a1a1a" stroke-width="0.5"/>
<text x="787.79" y="232.98" font-size="5.5" text-anchor="start" fill="#1a1a1a">" D.L.O.</text>
</g>
<path d="M810.8 231L834.4 231" stroke="#161616" stroke-width="1"/>
<path d="M851 231L876 231" stroke="#161616" stroke-width="1"/>
<path d="M810.8 231L814.3 230.05L814.3 231.95Z" fill="#161616" stroke="#161616" stroke-width="0.3"/>
<path d="M876 231L872.5 230.05L872.5 231.95Z" fill="#161616" stroke="#161616" stroke-width="0.3"/>
<g transform="translate(835 0) scale(0.91 1) translate(-835 0)">
<text x="835" y="232.98" font-size="5.5" text-anchor="start" fill="#1a1a1a">3' D.O.</text>
</g>
<path d="M879.5 231L916.08 231" stroke="#161616" stroke-width="1"/>
<path d="M943.12 231L980.4 231" stroke="#161616" stroke-width="1"/>
<path d="M879.5 231L883 230.05L883 231.95Z" fill="#161616" stroke="#161616" stroke-width="0.3"/>
<path d="M980.4 231L976.9 230.05L976.9 231.95Z" fill="#161616" stroke="#161616" stroke-width="0.3"/>
<g transform="translate(916.68 0) scale(0.91 1) translate(-916.68 0)">
<text x="916.68" y="232.98" font-size="5.5" text-anchor="start" fill="#1a1a1a">65</text>
<text x="923.86" y="229.9" font-size="4" text-anchor="middle" fill="#1a1a1a">3</text>
<text x="923.86" y="234.96" font-size="4" text-anchor="middle" fill="#1a1a1a">8</text>
<path d="M922.55 231L925.18 231" stroke="#1a1a1a" stroke-width="0.5"/>
<text x="925.28" y="232.98" font-size="5.5" text-anchor="start" fill="#1a1a1a">" D.L.O.</text>
</g>
<path d="M764.1 238.4L771.4 238.4" stroke="#161616" stroke-width="1"/>
<path d="M771.4 238.4L767.9 237.45L767.9 239.35Z" fill="#161616" stroke="#161616" stroke-width="0.3"/>
<path d="M775.4 238.4L782.7 238.4" stroke="#161616" stroke-width="1"/>
<path d="M775.4 238.4L778.9 237.45L778.9 239.35Z" fill="#161616" stroke="#161616" stroke-width="0.3"/>
<g transform="translate(759.14 0) scale(0.91 1) translate(-759.14 0)">
<text x="759.14" y="240.38" font-size="5.5" text-anchor="start" fill="#1a1a1a">2"</text>
</g>
<path d="M800.2 238.4L807.5 238.4" stroke="#161616" stroke-width="1"/>
<path d="M807.5 238.4L804 237.45L804 239.35Z" fill="#161616" stroke="#161616" stroke-width="0.3"/>
<path d="M810.8 238.4L818.1 238.4" stroke="#161616" stroke-width="1"/>
<path d="M810.8 238.4L814.3 237.45L814.3 239.35Z" fill="#161616" stroke="#161616" stroke-width="0.3"/>
<g transform="translate(795.24 0) scale(0.91 1) translate(-795.24 0)">
<text x="795.24" y="240.38" font-size="5.5" text-anchor="start" fill="#1a1a1a">2"</text>
</g>
<path d="M868.7 238.4L876 238.4" stroke="#161616" stroke-width="1"/>
<path d="M876 238.4L872.5 237.45L872.5 239.35Z" fill="#161616" stroke="#161616" stroke-width="0.3"/>
<path d="M879.5 238.4L886.8 238.4" stroke="#161616" stroke-width="1"/>
<path d="M879.5 238.4L883 237.45L883 239.35Z" fill="#161616" stroke="#161616" stroke-width="0.3"/>
<g transform="translate(887.2 0) scale(0.91 1) translate(-887.2 0)">
<text x="887.2" y="240.38" font-size="5.5" text-anchor="start" fill="#1a1a1a">2"</text>
</g>
<path d="M973.1 238.4L980.4 238.4" stroke="#161616" stroke-width="1"/>
<path d="M980.4 238.4L976.9 237.45L976.9 239.35Z" fill="#161616" stroke="#161616" stroke-width="0.3"/>
<path d="M984 238.4L991.3 238.4" stroke="#161616" stroke-width="1"/>
<path d="M984 238.4L987.5 237.45L987.5 239.35Z" fill="#161616" stroke="#161616" stroke-width="0.3"/>
<g transform="translate(991.7 0) scale(0.91 1) translate(-991.7 0)">
<text x="991.7" y="240.38" font-size="5.5" text-anchor="start" fill="#1a1a1a">2"</text>
</g>
<path d="M708.6 264.1L714.3 264.1" stroke="#161616" stroke-width="1"/>
<path d="M714.3 264.4L753.5 264.4" stroke="#161616" stroke-width="1.7"/>
<path d="M735.8 268.7L757 268.7" stroke="#161616" stroke-width="1"/>
<path d="M708.6 461.9L753.5 461.9" stroke="#161616" stroke-width="1.3"/>
<path d="M753 462L757 462" stroke="#161616" stroke-width="1"/>
<path d="M709 264.4L709 351" stroke="#161616" stroke-width="1"/>
<path d="M709 375.5L709 461.6" stroke="#161616" stroke-width="1"/>
<path d="M709 264.4L708.05 267.9L709.95 267.9Z" fill="#161616" stroke="#161616" stroke-width="0.3"/>
<path d="M709 461.6L708.05 458.1L709.95 458.1Z" fill="#161616" stroke="#161616" stroke-width="0.3"/>
<g transform="rotate(-90 709 363.25) translate(697.35 0) scale(0.88 1) translate(-697.35 0)">
<text x="697.35" y="365.23" font-size="5.5" text-anchor="start" fill="#1a1a1a">8'-8</text>
<text x="707.41" y="362.15" font-size="4" text-anchor="middle" fill="#1a1a1a">3</text>
<text x="707.41" y="367.21" font-size="4" text-anchor="middle" fill="#1a1a1a">8</text>
<path d="M706.1 363.25L708.72 363.25" stroke="#1a1a1a" stroke-width="0.5"/>
<text x="708.82" y="365.23" font-size="5.5" text-anchor="start" fill="#1a1a1a">" R.O.</text>
</g>
<path d="M724.2 264.8L724.2 341.6" stroke="#161616" stroke-width="1"/>
<path d="M724.2 385.2L724.2 461.6" stroke="#161616" stroke-width="1"/>
<path d="M724.2 264.8L723.25 268.3L725.15 268.3Z" fill="#161616" stroke="#161616" stroke-width="0.3"/>
<path d="M724.2 461.6L723.25 458.1L725.15 458.1Z" fill="#161616" stroke="#161616" stroke-width="0.3"/>
<g transform="rotate(-90 724.2 363.4) translate(705.8 0) scale(0.98 1) translate(-705.8 0)">
<text x="705.8" y="365.38" font-size="5.5" text-anchor="start" fill="#1a1a1a">8'-8"&#160;&#160;F.D. [104]</text>
</g>
<path d="M736.2 269L736.2 352.8" stroke="#161616" stroke-width="1"/>
<path d="M736.2 377.2L736.2 461.6" stroke="#161616" stroke-width="1"/>
<path d="M736.2 269L735.25 272.5L737.15 272.5Z" fill="#161616" stroke="#161616" stroke-width="0.3"/>
<path d="M736.2 461.6L735.25 458.1L737.15 458.1Z" fill="#161616" stroke="#161616" stroke-width="0.3"/>
<g transform="rotate(-90 736.2 365) translate(724.6 0) scale(0.98 1) translate(-724.6 0)">
<text x="724.6" y="366.98" font-size="5.5" text-anchor="start" fill="#1a1a1a">8'-4" D.O.</text>
</g>
<path d="M714.3 256.4L714.3 263.9" stroke="#161616" stroke-width="1"/>
<path d="M714.3 263.9L713.35 260.4L715.25 260.4Z" fill="#161616" stroke="#161616" stroke-width="0.3"/>
<path d="M714.3 264.8L714.3 272.3" stroke="#161616" stroke-width="1"/>
<path d="M714.3 264.8L713.35 268.3L715.25 268.3Z" fill="#161616" stroke="#161616" stroke-width="0.3"/>
<path d="M714.3 256.4L717.9 256.4" stroke="#161616" stroke-width="1"/>
<g transform="translate(718.2 0) scale(0.93 1) translate(-718.2 0)">
<text x="719.26" y="255.3" font-size="4" text-anchor="middle" fill="#1a1a1a">3</text>
<text x="719.26" y="260.36" font-size="4" text-anchor="middle" fill="#1a1a1a">8</text>
<path d="M717.95 256.4L720.57 256.4" stroke="#1a1a1a" stroke-width="0.5"/>
<text x="720.67" y="258.38" font-size="5.5" text-anchor="start" fill="#1a1a1a">"</text>
</g>
<path d="M742.6 257.3L742.6 264.5" stroke="#161616" stroke-width="1"/>
<path d="M742.6 264.5L741.65 261L743.55 261Z" fill="#161616" stroke="#161616" stroke-width="0.3"/>
<path d="M742.6 268.7L742.6 275.9" stroke="#161616" stroke-width="1"/>
<path d="M742.6 268.7L741.65 272.2L743.55 272.2Z" fill="#161616" stroke="#161616" stroke-width="0.3"/>
<path d="M742.6 257.3L746.2 257.3" stroke="#161616" stroke-width="1"/>
<g transform="translate(746.5 0) scale(0.91 1) translate(-746.5 0)">
<text x="746.5" y="259.28" font-size="5.5" text-anchor="start" fill="#1a1a1a">2"</text>
</g>
<path d="M1002 264.4L1046.2 264.4" stroke="#161616" stroke-width="1.7"/>
<path d="M1046 264.1L1052 264.1" stroke="#161616" stroke-width="1"/>
<path d="M998.3 268.5L1022.8 268.5" stroke="#161616" stroke-width="1"/>
<path d="M998.3 405L1022.8 405" stroke="#161616" stroke-width="1.1"/>
<path d="M998.3 408.8L1022.8 408.8" stroke="#161616" stroke-width="1.1"/>
<path d="M998.3 456.8L1022.8 456.8" stroke="#161616" stroke-width="1.1"/>
<path d="M1002.3 461.3L1045.6 461.3" stroke="#161616" stroke-width="1.7"/>
<path d="M1045 461.3L1052 461.3" stroke="#161616" stroke-width="1"/>
<path d="M1022.5 268.8L1022.5 324.4" stroke="#161616" stroke-width="1"/>
<path d="M1022.5 349.3L1022.5 404.7" stroke="#161616" stroke-width="1"/>
<path d="M1022.5 268.8L1021.55 272.3L1023.45 272.3Z" fill="#161616" stroke="#161616" stroke-width="0.3"/>
<path d="M1022.5 404.7L1021.55 401.2L1023.45 401.2Z" fill="#161616" stroke="#161616" stroke-width="0.3"/>
<g transform="rotate(-90 1022.5 336.85) translate(1010.65 0) scale(0.93 1) translate(-1010.65 0)">
<text x="1010.65" y="338.83" font-size="5.5" text-anchor="start" fill="#1a1a1a">72" D.L.O.</text>
</g>
<path d="M1022.5 409.1L1022.5 418.85" stroke="#161616" stroke-width="1"/>
<path d="M1022.5 447.55L1022.5 456.5" stroke="#161616" stroke-width="1"/>
<path d="M1022.5 409.1L1021.55 412.6L1023.45 412.6Z" fill="#161616" stroke="#161616" stroke-width="0.3"/>
<path d="M1022.5 456.5L1021.55 453L1023.45 453Z" fill="#161616" stroke="#161616" stroke-width="0.3"/>
<g transform="rotate(-90 1022.5 433.2) translate(1008.75 0) scale(0.97 1) translate(-1008.75 0)">
<text x="1008.75" y="435.18" font-size="5.5" text-anchor="start" fill="#1a1a1a">23</text>
<text x="1015.93" y="432.1" font-size="4" text-anchor="middle" fill="#1a1a1a">3</text>
<text x="1015.93" y="437.16" font-size="4" text-anchor="middle" fill="#1a1a1a">8</text>
<path d="M1014.62 433.2L1017.24 433.2" stroke="#1a1a1a" stroke-width="0.5"/>
<text x="1017.34" y="435.18" font-size="5.5" text-anchor="start" fill="#1a1a1a">" D.L.O.</text>
</g>
<path d="M1036 264.8L1036 337.75" stroke="#161616" stroke-width="1"/>
<path d="M1036 387.45L1036 461" stroke="#161616" stroke-width="1"/>
<path d="M1036 264.8L1035.05 268.3L1036.95 268.3Z" fill="#161616" stroke="#161616" stroke-width="0.3"/>
<path d="M1036 461L1035.05 457.5L1036.95 457.5Z" fill="#161616" stroke="#161616" stroke-width="0.3"/>
<g transform="rotate(-90 1036 362.6) translate(1014.15 0) scale(1.01 1) translate(-1014.15 0)">
<text x="1014.15" y="364.58" font-size="5.5" text-anchor="start" fill="#1a1a1a">8'-7</text>
<text x="1024.21" y="361.5" font-size="4" text-anchor="middle" fill="#1a1a1a">5</text>
<text x="1024.21" y="366.56" font-size="4" text-anchor="middle" fill="#1a1a1a">8</text>
<path d="M1022.9 362.6L1025.52 362.6" stroke="#1a1a1a" stroke-width="0.5"/>
<text x="1025.62" y="364.58" font-size="5.5" text-anchor="start" fill="#1a1a1a">"&#160;&#160;F.D. [103</text>
<text x="1053.71" y="361.5" font-size="4" text-anchor="middle" fill="#1a1a1a">5</text>
<text x="1053.71" y="366.56" font-size="4" text-anchor="middle" fill="#1a1a1a">8</text>
<path d="M1052.39 362.6L1055.02 362.6" stroke="#1a1a1a" stroke-width="0.5"/>
<text x="1055.12" y="364.58" font-size="5.5" text-anchor="start" fill="#1a1a1a">]</text>
</g>
<path d="M1051.6 264.4L1051.6 351.1" stroke="#161616" stroke-width="1"/>
<path d="M1051.6 375.4L1051.6 461" stroke="#161616" stroke-width="1"/>
<path d="M1051.6 264.4L1050.65 267.9L1052.55 267.9Z" fill="#161616" stroke="#161616" stroke-width="0.3"/>
<path d="M1051.6 461L1050.65 457.5L1052.55 457.5Z" fill="#161616" stroke="#161616" stroke-width="0.3"/>
<g transform="rotate(-90 1051.6 363.25) translate(1040.05 0) scale(0.87 1) translate(-1040.05 0)">
<text x="1040.05" y="365.23" font-size="5.5" text-anchor="start" fill="#1a1a1a">8'-8</text>
<text x="1050.11" y="362.15" font-size="4" text-anchor="middle" fill="#1a1a1a">3</text>
<text x="1050.11" y="367.21" font-size="4" text-anchor="middle" fill="#1a1a1a">8</text>
<path d="M1048.8 363.25L1051.42 363.25" stroke="#1a1a1a" stroke-width="0.5"/>
<text x="1051.52" y="365.23" font-size="5.5" text-anchor="start" fill="#1a1a1a">" R.O.</text>
</g>
<path d="M1010.2 257.3L1010.2 264.5" stroke="#161616" stroke-width="1"/>
<path d="M1010.2 264.5L1009.25 261L1011.15 261Z" fill="#161616" stroke="#161616" stroke-width="0.3"/>
<path d="M1010.2 268.5L1010.2 275.7" stroke="#161616" stroke-width="1"/>
<path d="M1010.2 268.5L1009.25 272L1011.15 272Z" fill="#161616" stroke="#161616" stroke-width="0.3"/>
<path d="M1010.2 257.3L1013.8 257.3" stroke="#161616" stroke-width="1"/>
<g transform="translate(1014.1 0) scale(0.91 1) translate(-1014.1 0)">
<text x="1014.1" y="259.28" font-size="5.5" text-anchor="start" fill="#1a1a1a">2"</text>
</g>
<path d="M1046.2 256.4L1046.2 263.9" stroke="#161616" stroke-width="1"/>
<path d="M1046.2 263.9L1045.25 260.4L1047.15 260.4Z" fill="#161616" stroke="#161616" stroke-width="0.3"/>
<path d="M1046.2 264.8L1046.2 272.3" stroke="#161616" stroke-width="1"/>
<path d="M1046.2 264.8L1045.25 268.3L1047.15 268.3Z" fill="#161616" stroke="#161616" stroke-width="0.3"/>
<path d="M1046.2 256.4L1049.8 256.4" stroke="#161616" stroke-width="1"/>
<g transform="translate(1050.1 0) scale(0.93 1) translate(-1050.1 0)">
<text x="1051.16" y="255.3" font-size="4" text-anchor="middle" fill="#1a1a1a">3</text>
<text x="1051.16" y="260.36" font-size="4" text-anchor="middle" fill="#1a1a1a">8</text>
<path d="M1049.85 256.4L1052.47 256.4" stroke="#1a1a1a" stroke-width="0.5"/>
<text x="1052.57" y="258.38" font-size="5.5" text-anchor="start" fill="#1a1a1a">"</text>
</g>
<path d="M1011.4 397.5L1011.4 405" stroke="#161616" stroke-width="1"/>
<path d="M1011.4 405L1010.45 401.5L1012.35 401.5Z" fill="#161616" stroke="#161616" stroke-width="0.3"/>
<path d="M1011.4 408.8L1011.4 416.3" stroke="#161616" stroke-width="1"/>
<path d="M1011.4 408.8L1010.45 412.3L1012.35 412.3Z" fill="#161616" stroke="#161616" stroke-width="0.3"/>
<path d="M1011.4 397.5L1015 397.5" stroke="#161616" stroke-width="1"/>
<g transform="translate(1015.3 0) scale(0.91 1) translate(-1015.3 0)">
<text x="1015.3" y="399.48" font-size="5.5" text-anchor="start" fill="#1a1a1a">2"</text>
</g>
<path d="M1011.4 449.3L1011.4 456.8" stroke="#161616" stroke-width="1"/>
<path d="M1011.4 456.8L1010.45 453.3L1012.35 453.3Z" fill="#161616" stroke="#161616" stroke-width="0.3"/>
<path d="M1011.4 461.3L1011.4 468.8" stroke="#161616" stroke-width="1"/>
<path d="M1011.4 461.3L1010.45 464.8L1012.35 464.8Z" fill="#161616" stroke="#161616" stroke-width="0.3"/>
<path d="M1011.4 449.3L1015 449.3" stroke="#161616" stroke-width="1"/>
<g transform="translate(1015.3 0) scale(0.91 1) translate(-1015.3 0)">
<text x="1015.3" y="451.28" font-size="5.5" text-anchor="start" fill="#1a1a1a">2"</text>
</g>
<path d="M1044.8 453L1044.8 461" stroke="#161616" stroke-width="1"/>
<path d="M1044.8 461L1043.85 457.5L1045.75 457.5Z" fill="#161616" stroke="#161616" stroke-width="0.3"/>
<path d="M1044.8 461.6L1044.8 469.6" stroke="#161616" stroke-width="1"/>
<path d="M1044.8 461.6L1043.85 465.1L1045.75 465.1Z" fill="#161616" stroke="#161616" stroke-width="0.3"/>
<path d="M1044.8 469.6L1041 469.6" stroke="#161616" stroke-width="1"/>
<g transform="translate(1036.27 0) scale(0.93 1) translate(-1036.27 0)">
<text x="1037.33" y="468.5" font-size="4" text-anchor="middle" fill="#1a1a1a">3</text>
<text x="1037.33" y="473.56" font-size="4" text-anchor="middle" fill="#1a1a1a">8</text>
<path d="M1036.02 469.6L1038.64 469.6" stroke="#1a1a1a" stroke-width="0.5"/>
<text x="1038.74" y="471.58" font-size="5.5" text-anchor="start" fill="#1a1a1a">"</text>
</g>
<path d="M99.1 528.2L99.1 520.6Q99.1 519.4 100.3 519.4L101.6 519.4Q102.8 519.4 102.8 520.6L102.8 528.2" stroke="#161616" stroke-width="0.9"/>
<path d="M102.8 525L167.5 525" stroke="#444" stroke-width="1"/>
<path d="M99.1 528.2L167.5 528.2" stroke="#000" stroke-width="1.4"/>
<path d="M102 528.2L102 596.7" stroke="#444" stroke-width="1"/>
<path d="M105.4 528.2L105.4 596.7" stroke="#161616" stroke-width="0.9"/>
<path d="M102 596.7L105.4 596.7" stroke="#161616" stroke-width="0.9"/>
<path d="M167.5 528.2A62.1 68.5 0 0 1 105.4 596.7" stroke="#161616" stroke-width="0.95"/>
<path d="M167.5 519.7L170.9 519.7L170.9 528.2L167.5 528.2Z" stroke="#161616" stroke-width="0.9"/>
<path d="M170.9 519.7L217.5 519.7" stroke="#161616" stroke-width="0.9"/>
<path d="M170.9 528.2L217.5 528.2" stroke="#000" stroke-width="1.3"/>
<path d="M170.9 524.3L217.5 524.3" stroke="#000" stroke-width="2.6"/>
<path d="M217.5 519.7L220.5 519.7L220.5 528.2L217.5 528.2Z" stroke="#161616" stroke-width="0.9"/>
<path d="M220.5 519.7L267.1 519.7" stroke="#161616" stroke-width="0.9"/>
<path d="M220.5 528.2L267.1 528.2" stroke="#000" stroke-width="1.3"/>
<path d="M220.5 524.3L267.1 524.3" stroke="#000" stroke-width="2.6"/>
<path d="M267.1 519.7L270.4 519.7L270.4 528.2L267.1 528.2Z" stroke="#161616" stroke-width="0.9"/>
<path d="M433.4 528.2L433.4 520.6Q433.4 519.4 434.6 519.4L435.9 519.4Q437.1 519.4 437.1 520.6L437.1 528.2" stroke="#161616" stroke-width="0.9"/>
<path d="M437.1 525L501.8 525" stroke="#444" stroke-width="1"/>
<path d="M433.4 528.2L501.8 528.2" stroke="#000" stroke-width="1.4"/>
<path d="M436.3 528.2L436.3 596.7" stroke="#444" stroke-width="1"/>
<path d="M439.7 528.2L439.7 596.7" stroke="#161616" stroke-width="0.9"/>
<path d="M436.3 596.7L439.7 596.7" stroke="#161616" stroke-width="0.9"/>
<path d="M501.8 528.2A62.1 68.5 0 0 1 439.7 596.7" stroke="#161616" stroke-width="0.95"/>
<path d="M501.8 519.7L505.2 519.7L505.2 528.2L501.8 528.2Z" stroke="#161616" stroke-width="0.9"/>
<path d="M505.2 519.7L603.5 519.7" stroke="#161616" stroke-width="0.9"/>
<path d="M505.2 528.2L603.5 528.2" stroke="#000" stroke-width="1.3"/>
<path d="M505.2 524.3L603.5 524.3" stroke="#000" stroke-width="2.6"/>
<path d="M603.5 519.7L606.7 519.7L606.7 528.2L603.5 528.2Z" stroke="#161616" stroke-width="0.9"/>
<path d="M771.5 519.7L775.4 519.7L775.4 528.2L771.5 528.2Z" stroke="#161616" stroke-width="0.9"/>
<path d="M775.4 519.7L807.8 519.7" stroke="#161616" stroke-width="0.9"/>
<path d="M775.4 528.2L807.8 528.2" stroke="#000" stroke-width="1.3"/>
<path d="M775.4 524.3L807.8 524.3" stroke="#000" stroke-width="2.6"/>
<path d="M807.8 519.7L811 519.7L811 528.2L807.8 528.2Z" stroke="#161616" stroke-width="0.9"/>
<path d="M811 525L875.6 525" stroke="#444" stroke-width="1"/>
<path d="M811 528.2L875.6 528.2" stroke="#000" stroke-width="1.4"/>
<path d="M810.5 528.2L810.5 596.7" stroke="#444" stroke-width="1"/>
<path d="M814.2 528.2L814.2 596.7" stroke="#161616" stroke-width="0.9"/>
<path d="M810.5 596.7L814.2 596.7" stroke="#161616" stroke-width="0.9"/>
<path d="M875.6 528.2A61.4 68.5 0 0 1 814.2 596.7" stroke="#161616" stroke-width="0.95"/>
<path d="M875.6 519.7L879.2 519.7L879.2 528.2L875.6 528.2Z" stroke="#161616" stroke-width="0.9"/>
<path d="M879.2 519.7L980.2 519.7" stroke="#161616" stroke-width="0.9"/>
<path d="M879.2 528.2L980.2 528.2" stroke="#000" stroke-width="1.3"/>
<path d="M879.2 524.3L980.2 524.3" stroke="#000" stroke-width="2.6"/>
<path d="M980.2 519.7L984.3 519.7L984.3 528.2L980.2 528.2Z" stroke="#161616" stroke-width="0.9"/>
<ellipse cx="100.3" cy="665.2" rx="28.7" ry="30.1" stroke="#161616" stroke-width="0.9" fill="none"/>
<text x="73" y="674" font-size="22.4" text-anchor="start" fill="#111" transform="translate(73 674) scale(1 1.05) translate(-73 -674)">SF7</text>
<path d="M129 665.6L292.4 665.6" stroke="#161616" stroke-width="0.9"/>
<text x="137" y="658.2" font-size="12.55" text-anchor="start" fill="#111" transform="translate(137 658.2) scale(1 1.07) translate(-137 -658.2)">INTERIOR STOREFRONT</text>
<text x="137" y="683.6" font-size="12.55" text-anchor="start" fill="#111" transform="translate(137 683.6) scale(1 1.07) translate(-137 -683.6)">ONE (1) THUS</text>
<ellipse cx="424" cy="665.2" rx="28.7" ry="30.1" stroke="#161616" stroke-width="0.9" fill="none"/>
<text x="398" y="674" font-size="22.4" text-anchor="start" fill="#111" transform="translate(398 674) scale(1 1.05) translate(-398 -674)">SF9</text>
<path d="M452.7 665.6L616 665.6" stroke="#161616" stroke-width="0.9"/>
<text x="460.6" y="658.2" font-size="12.55" text-anchor="start" fill="#111" transform="translate(460.6 658.2) scale(1 1.07) translate(-460.6 -658.2)">INTERIOR STOREFRONT</text>
<text x="460.6" y="683.6" font-size="12.55" text-anchor="start" fill="#111" transform="translate(460.6 683.6) scale(1 1.07) translate(-460.6 -683.6)">ONE (1) THUS</text>
<ellipse cx="781.7" cy="665.2" rx="28.7" ry="30.1" stroke="#161616" stroke-width="0.9" fill="none"/>
<text x="755.6" y="674" font-size="22.4" text-anchor="start" fill="#111" transform="translate(755.6 674) scale(1 1.05) translate(-755.6 -674)">SF10</text>
<path d="M810.4 665.6L973.6 665.6" stroke="#161616" stroke-width="0.9"/>
<text x="818.4" y="658.2" font-size="12.55" text-anchor="start" fill="#111" transform="translate(818.4 658.2) scale(1 1.07) translate(-818.4 -658.2)">EXTERIOR STOREFRONT</text>
<text x="818.4" y="683.6" font-size="12.55" text-anchor="start" fill="#111" transform="translate(818.4 683.6) scale(1 1.07) translate(-818.4 -683.6)">THREE (3) THUS</text>
<text x="88" y="725.5" font-size="12.55" text-anchor="start" fill="#111" transform="translate(88 725.5) scale(1 1.07) translate(-88 -725.5)">1ST FLOOR - OFFICE - 0158A</text>
<text x="402" y="725.5" font-size="12.55" text-anchor="start" fill="#111" transform="translate(402 725.5) scale(1 1.07) translate(-402 -725.5)">1ST FLOOR -CO WORK - 0251A</text>
<text x="772" y="725.5" font-size="12.55" text-anchor="start" fill="#111" transform="translate(772 725.5) scale(1 1.07) translate(-772 -725.5)">1ST FLOOR - A3.1 - 0108A OPP</text>
<text x="772" y="744.1" font-size="12.55" text-anchor="start" fill="#111" transform="translate(772 744.1) scale(1 1.07) translate(-772 -744.1)">1ST FLOOR - S1.1 - 0110A</text>
<text x="772" y="764.7" font-size="12.55" text-anchor="start" fill="#111" transform="translate(772 764.7) scale(1 1.07) translate(-772 -764.7)">1ST FLOOR - A3.1 - O112A</text>
</g>
<text x="1122.4" y="648.2" style="font-family:'Liberation Serif',serif" font-weight="bold" font-size="11.8" fill="#111" textLength="37.4" lengthAdjust="spacingAndGlyphs">DRAWN:</text>
<text x="1113.9" y="659.6" font-style="italic" font-size="8.7" fill="#8c8c8c" textLength="59.9" lengthAdjust="spacingAndGlyphs">M ROMERO</text>
<text x="1115.9" y="677.5" style="font-family:'Liberation Serif',serif" font-weight="bold" font-size="11.8" fill="#111" textLength="51.1" lengthAdjust="spacingAndGlyphs">CHECKED:</text>
<text x="1113" y="689.4" font-style="italic" font-size="8.7" fill="#8c8c8c" textLength="59.1" lengthAdjust="spacingAndGlyphs">M ROMERO</text>
<text x="1123.7" y="705.3" style="font-family:'Liberation Serif',serif" font-weight="bold" font-size="11.8" fill="#111" textLength="28.5" lengthAdjust="spacingAndGlyphs">DATE:</text>
<text x="1099.4" y="718.6" font-style="italic" font-size="8.7" fill="#8c8c8c" textLength="85.1" lengthAdjust="spacingAndGlyphs">10/ 28/ 2024</text>
<text x="1121.5" y="735.1" style="font-family:'Liberation Serif',serif" font-weight="bold" font-size="11.8" fill="#111" textLength="34.6" lengthAdjust="spacingAndGlyphs">SCALE:</text>
<text x="1124" y="747.9" font-style="italic" font-size="8.7" fill="#8c8c8c" textLength="30.2" lengthAdjust="spacingAndGlyphs">NONE</text>
<text x="1097.1" y="772.8" style="font-family:'Liberation Serif',serif" font-size="15.6" fill="#111" textLength="45.4" lengthAdjust="spacingAndGlyphs">SHEET</text>
<text x="1152.2" y="772.8" style="font-family:'Liberation Serif',serif" font-size="15.6" fill="#111" textLength="22.6" lengthAdjust="spacingAndGlyphs">NO.</text>
<text x="1140.6" y="806.4" style="font-family:'Liberation Serif',serif" font-size="35.8" text-anchor="middle" fill="#000" transform="translate(1140.6 0) scale(0.93 1) translate(-1140.6 0)">302</text>
<text x="1119.3" y="587.2" style="font-family:'Liberation Mono',monospace" font-weight="bold" font-style="italic" font-size="12" fill="#111" textLength="161.8" lengthAdjust="spacing" transform="rotate(-90 1119.3 587.2)">WESTLAKE 3 RENOVATIONS</text>
<text x="1160.2" y="583.3" style="font-family:'Liberation Mono',monospace" font-weight="bold" font-style="italic" font-size="12" fill="#111" textLength="165.6" lengthAdjust="spacing" transform="rotate(-90 1160.2 583.3)">550 WESTLAKE PARK BLVD.</text>
<text x="1179" y="566.5" style="font-family:'Liberation Mono',monospace" font-weight="bold" font-style="italic" font-size="12" fill="#111" textLength="122.8" lengthAdjust="spacing" transform="rotate(-90 1179 566.5)">HOUSTON, TX 77079</text>
</svg>
</body></html>
